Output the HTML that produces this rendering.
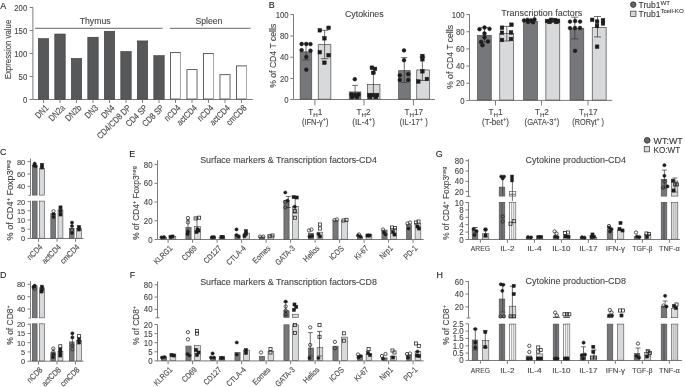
<!DOCTYPE html>
<html><head><meta charset="utf-8"><style>
html,body{margin:0;padding:0;background:#fff;overflow:hidden;}
svg{display:block;font-family:"Liberation Sans",sans-serif;will-change:transform;}
text{stroke:#4a4a4a;stroke-width:0.12px;}
</style></head><body>
<svg fill="#454545" width="685" height="387" viewBox="0 0 685 387">
<rect width="685" height="387" fill="#fff"/>
<text x="0.2" y="8.8" font-size="9.6" textLength="5.96" lengthAdjust="spacingAndGlyphs" fill="#111">A</text>
<line x1="32.9" y1="7.3" x2="32.9" y2="99.5" stroke="#7c7c7c" stroke-width="1.0"/>
<line x1="29.6" y1="99.5" x2="32.9" y2="99.5" stroke="#7c7c7c" stroke-width="1.0"/>
<line x1="29.6" y1="76.5" x2="32.9" y2="76.5" stroke="#7c7c7c" stroke-width="1.0"/>
<line x1="29.6" y1="53.5" x2="32.9" y2="53.5" stroke="#7c7c7c" stroke-width="1.0"/>
<line x1="29.6" y1="30.5" x2="32.9" y2="30.5" stroke="#7c7c7c" stroke-width="1.0"/>
<line x1="29.6" y1="7.5" x2="32.9" y2="7.5" stroke="#7c7c7c" stroke-width="1.0"/>
<text x="27.2" y="102.7" font-size="9.0" text-anchor="end" textLength="4.3" lengthAdjust="spacingAndGlyphs">0</text>
<text x="27.2" y="79.7" font-size="9.0" text-anchor="end" textLength="8.61" lengthAdjust="spacingAndGlyphs">50</text>
<text x="27.2" y="56.7" font-size="9.0" text-anchor="end" textLength="12.91" lengthAdjust="spacingAndGlyphs">100</text>
<text x="27.2" y="33.7" font-size="9.0" text-anchor="end" textLength="12.91" lengthAdjust="spacingAndGlyphs">150</text>
<text x="27.2" y="10.7" font-size="9.0" text-anchor="end" textLength="12.91" lengthAdjust="spacingAndGlyphs">200</text>
<line x1="32.9" y1="99.5" x2="252.9" y2="99.5" stroke="#7c7c7c" stroke-width="1.0"/>
<rect x="38.3" y="38.62" width="10.4" height="60.58" fill="#57585a" stroke="#3a3a3a" stroke-width="0.6"/>
<line x1="43.5" y1="99.5" x2="43.5" y2="102.9" stroke="#7c7c7c" stroke-width="1.0"/>
<text x="49.1" y="108.5" font-size="9.0" text-anchor="end" transform="rotate(-45 49.1 108.5)" textLength="14.76" lengthAdjust="spacingAndGlyphs">DN1</text>
<rect x="54.8" y="34.02" width="10.4" height="65.18" fill="#57585a" stroke="#3a3a3a" stroke-width="0.6"/>
<line x1="60" y1="99.5" x2="60" y2="102.9" stroke="#7c7c7c" stroke-width="1.0"/>
<text x="65.6" y="108.5" font-size="9.0" text-anchor="end" transform="rotate(-45 65.6 108.5)" textLength="18.87" lengthAdjust="spacingAndGlyphs">DN2a</text>
<rect x="71.3" y="58.4" width="10.4" height="40.8" fill="#57585a" stroke="#3a3a3a" stroke-width="0.6"/>
<line x1="76.5" y1="99.5" x2="76.5" y2="102.9" stroke="#7c7c7c" stroke-width="1.0"/>
<text x="82.1" y="108.5" font-size="9.0" text-anchor="end" transform="rotate(-45 82.1 108.5)" textLength="18.87" lengthAdjust="spacingAndGlyphs">DN2b</text>
<rect x="87.8" y="37.24" width="10.4" height="61.96" fill="#57585a" stroke="#3a3a3a" stroke-width="0.6"/>
<line x1="93" y1="99.5" x2="93" y2="102.9" stroke="#7c7c7c" stroke-width="1.0"/>
<text x="98.6" y="108.5" font-size="9.0" text-anchor="end" transform="rotate(-45 98.6 108.5)" textLength="14.76" lengthAdjust="spacingAndGlyphs">DN3</text>
<rect x="104.3" y="31.26" width="10.4" height="67.94" fill="#57585a" stroke="#3a3a3a" stroke-width="0.6"/>
<line x1="109.5" y1="99.5" x2="109.5" y2="102.9" stroke="#7c7c7c" stroke-width="1.0"/>
<text x="115.1" y="108.5" font-size="9.0" text-anchor="end" transform="rotate(-45 115.1 108.5)" textLength="14.76" lengthAdjust="spacingAndGlyphs">DN4</text>
<rect x="120.8" y="51.5" width="10.4" height="47.7" fill="#57585a" stroke="#3a3a3a" stroke-width="0.6"/>
<line x1="126" y1="99.5" x2="126" y2="102.9" stroke="#7c7c7c" stroke-width="1.0"/>
<text x="131.6" y="108.5" font-size="9.0" text-anchor="end" transform="rotate(-45 131.6 108.5)" textLength="43.88" lengthAdjust="spacingAndGlyphs">CD4/CD8 DP</text>
<rect x="137.3" y="40.92" width="10.4" height="58.28" fill="#57585a" stroke="#3a3a3a" stroke-width="0.6"/>
<line x1="142.5" y1="99.5" x2="142.5" y2="102.9" stroke="#7c7c7c" stroke-width="1.0"/>
<text x="148.1" y="108.5" font-size="9.0" text-anchor="end" transform="rotate(-45 148.1 108.5)" textLength="26.66" lengthAdjust="spacingAndGlyphs">CD4 SP</text>
<rect x="153.8" y="55.64" width="10.4" height="43.56" fill="#57585a" stroke="#3a3a3a" stroke-width="0.6"/>
<line x1="159" y1="99.5" x2="159" y2="102.9" stroke="#7c7c7c" stroke-width="1.0"/>
<text x="164.6" y="108.5" font-size="9.0" text-anchor="end" transform="rotate(-45 164.6 108.5)" textLength="26.66" lengthAdjust="spacingAndGlyphs">CD8 SP</text>
<rect x="170.45" y="52.57" width="10.1" height="46.48" fill="#fff" stroke="#505050" stroke-width="0.9"/>
<line x1="180.55" y1="52.62" x2="180.55" y2="99.5" stroke="#b4b4b4" stroke-width="0.9"/>
<line x1="175.5" y1="99.5" x2="175.5" y2="102.9" stroke="#7c7c7c" stroke-width="1.0"/>
<text x="181.1" y="108.5" font-size="9.0" text-anchor="end" transform="rotate(-45 181.1 108.5)" textLength="18.87" lengthAdjust="spacingAndGlyphs">nCD4</text>
<rect x="186.95" y="69.59" width="10.1" height="29.46" fill="#fff" stroke="#505050" stroke-width="0.9"/>
<line x1="197.05" y1="69.64" x2="197.05" y2="99.5" stroke="#b4b4b4" stroke-width="0.9"/>
<line x1="192" y1="99.5" x2="192" y2="102.9" stroke="#7c7c7c" stroke-width="1.0"/>
<text x="197.6" y="108.5" font-size="9.0" text-anchor="end" transform="rotate(-45 197.6 108.5)" textLength="24.61" lengthAdjust="spacingAndGlyphs">actCD4</text>
<rect x="203.45" y="53.49" width="10.1" height="45.56" fill="#fff" stroke="#505050" stroke-width="0.9"/>
<line x1="213.55" y1="53.54" x2="213.55" y2="99.5" stroke="#b4b4b4" stroke-width="0.9"/>
<line x1="208.5" y1="99.5" x2="208.5" y2="102.9" stroke="#7c7c7c" stroke-width="1.0"/>
<text x="214.1" y="108.5" font-size="9.0" text-anchor="end" transform="rotate(-45 214.1 108.5)" textLength="18.87" lengthAdjust="spacingAndGlyphs">nCD4</text>
<rect x="219.95" y="74.65" width="10.1" height="24.4" fill="#fff" stroke="#505050" stroke-width="0.9"/>
<line x1="230.05" y1="74.7" x2="230.05" y2="99.5" stroke="#b4b4b4" stroke-width="0.9"/>
<line x1="225" y1="99.5" x2="225" y2="102.9" stroke="#7c7c7c" stroke-width="1.0"/>
<text x="230.6" y="108.5" font-size="9.0" text-anchor="end" transform="rotate(-45 230.6 108.5)" textLength="24.61" lengthAdjust="spacingAndGlyphs">actCD4</text>
<rect x="236.45" y="65.91" width="10.1" height="33.14" fill="#fff" stroke="#505050" stroke-width="0.9"/>
<line x1="246.55" y1="65.96" x2="246.55" y2="99.5" stroke="#b4b4b4" stroke-width="0.9"/>
<line x1="241.5" y1="99.5" x2="241.5" y2="102.9" stroke="#7c7c7c" stroke-width="1.0"/>
<text x="247.1" y="108.5" font-size="9.0" text-anchor="end" transform="rotate(-45 247.1 108.5)" textLength="24.6" lengthAdjust="spacingAndGlyphs">cmCD8</text>
<text x="11" y="49.5" font-size="8.4" text-anchor="middle" transform="rotate(-90 11 49.5)" textLength="59.5" lengthAdjust="spacingAndGlyphs">Expression value</text>
<line x1="35" y1="28.3" x2="162.5" y2="28.3" stroke="#555" stroke-width="0.9"/>
<line x1="169.8" y1="28.3" x2="250.5" y2="28.3" stroke="#555" stroke-width="0.9"/>
<text x="95.2" y="23.9" font-size="9.4" text-anchor="middle" textLength="31" lengthAdjust="spacingAndGlyphs">Thymus</text>
<text x="208.9" y="23.9" font-size="9.4" text-anchor="middle" textLength="27" lengthAdjust="spacingAndGlyphs">Spleen</text>
<text x="268.7" y="8" font-size="9.6" textLength="5.96" lengthAdjust="spacingAndGlyphs" fill="#111">B</text>
<line x1="293.5" y1="14.2" x2="293.5" y2="99.5" stroke="#7c7c7c" stroke-width="1.0"/>
<line x1="290.3" y1="14.6" x2="293.5" y2="14.6" stroke="#7c7c7c" stroke-width="1.0"/>
<line x1="290.3" y1="36" x2="293.5" y2="36" stroke="#7c7c7c" stroke-width="1.0"/>
<line x1="290.3" y1="57.2" x2="293.5" y2="57.2" stroke="#7c7c7c" stroke-width="1.0"/>
<line x1="290.3" y1="78.5" x2="293.5" y2="78.5" stroke="#7c7c7c" stroke-width="1.0"/>
<line x1="290.3" y1="99.5" x2="293.5" y2="99.5" stroke="#7c7c7c" stroke-width="1.0"/>
<text x="288.6" y="17.8" font-size="9.0" text-anchor="end" textLength="12.91" lengthAdjust="spacingAndGlyphs">100</text>
<text x="288.6" y="39.2" font-size="9.0" text-anchor="end" textLength="8.61" lengthAdjust="spacingAndGlyphs">80</text>
<text x="288.6" y="60.4" font-size="9.0" text-anchor="end" textLength="8.61" lengthAdjust="spacingAndGlyphs">40</text>
<text x="288.6" y="81.7" font-size="9.0" text-anchor="end" textLength="8.61" lengthAdjust="spacingAndGlyphs">20</text>
<text x="288.6" y="102.7" font-size="9.0" text-anchor="end" textLength="4.3" lengthAdjust="spacingAndGlyphs">0</text>
<line x1="293.5" y1="99.5" x2="435" y2="99.5" stroke="#7c7c7c" stroke-width="1.0"/>
<rect x="300.15" y="51.85" width="11.6" height="47.3" fill="#76777a" stroke="#4a4a4a" stroke-width="0.7"/>
<rect x="318.25" y="44.65" width="12.6" height="54.5" fill="#d8d9db" stroke="#4a4a4a" stroke-width="0.7"/>
<line x1="314.9" y1="99.5" x2="314.9" y2="105.5" stroke="#7c7c7c" stroke-width="1.0"/>
<rect x="349.25" y="91.95" width="11.6" height="7.2" fill="#76777a" stroke="#4a4a4a" stroke-width="0.7"/>
<rect x="367.35" y="84.55" width="12.6" height="14.6" fill="#d8d9db" stroke="#4a4a4a" stroke-width="0.7"/>
<line x1="364" y1="99.5" x2="364" y2="105.5" stroke="#7c7c7c" stroke-width="1.0"/>
<rect x="398.65" y="70.65" width="11.6" height="28.5" fill="#76777a" stroke="#4a4a4a" stroke-width="0.7"/>
<rect x="416.75" y="69.95" width="12.6" height="29.2" fill="#d8d9db" stroke="#4a4a4a" stroke-width="0.7"/>
<line x1="413.4" y1="99.5" x2="413.4" y2="105.5" stroke="#7c7c7c" stroke-width="1.0"/>
<line x1="306" y1="43.4" x2="306" y2="59.9" stroke="#333" stroke-width="0.7"/>
<line x1="302.2" y1="43.4" x2="309.8" y2="43.4" stroke="#333" stroke-width="0.7"/>
<line x1="302.2" y1="59.9" x2="309.8" y2="59.9" stroke="#333" stroke-width="0.7"/>
<line x1="324.6" y1="30.3" x2="324.6" y2="58.7" stroke="#333" stroke-width="0.7"/>
<line x1="320.8" y1="30.3" x2="328.4" y2="30.3" stroke="#333" stroke-width="0.7"/>
<line x1="320.8" y1="58.7" x2="328.4" y2="58.7" stroke="#333" stroke-width="0.7"/>
<line x1="355.1" y1="85.4" x2="355.1" y2="97.5" stroke="#333" stroke-width="0.7"/>
<line x1="352.1" y1="85.4" x2="358.1" y2="85.4" stroke="#333" stroke-width="0.7"/>
<line x1="352.1" y1="97.5" x2="358.1" y2="97.5" stroke="#333" stroke-width="0.7"/>
<line x1="373.4" y1="72.8" x2="373.4" y2="98" stroke="#333" stroke-width="0.7"/>
<line x1="370.9" y1="72.8" x2="375.9" y2="72.8" stroke="#333" stroke-width="0.7"/>
<line x1="370.9" y1="98" x2="375.9" y2="98" stroke="#333" stroke-width="0.7"/>
<line x1="404.3" y1="57.6" x2="404.3" y2="82.5" stroke="#333" stroke-width="0.7"/>
<line x1="401.3" y1="57.6" x2="407.3" y2="57.6" stroke="#333" stroke-width="0.7"/>
<line x1="401.3" y1="82.5" x2="407.3" y2="82.5" stroke="#333" stroke-width="0.7"/>
<line x1="422.4" y1="57" x2="422.4" y2="80.5" stroke="#333" stroke-width="0.7"/>
<line x1="419.4" y1="57" x2="425.4" y2="57" stroke="#333" stroke-width="0.7"/>
<line x1="419.4" y1="80.5" x2="425.4" y2="80.5" stroke="#333" stroke-width="0.7"/>
<circle cx="301.6" cy="44" r="1.9" fill="#1c1c1c" stroke="#1c1c1c" stroke-width="0.5"/>
<circle cx="306.3" cy="44" r="1.9" fill="#1c1c1c" stroke="#1c1c1c" stroke-width="0.5"/>
<circle cx="310.5" cy="44.1" r="1.9" fill="#1c1c1c" stroke="#1c1c1c" stroke-width="0.5"/>
<circle cx="301.6" cy="50.1" r="1.9" fill="#1c1c1c" stroke="#1c1c1c" stroke-width="0.5"/>
<circle cx="310.5" cy="50.7" r="1.9" fill="#1c1c1c" stroke="#1c1c1c" stroke-width="0.5"/>
<circle cx="306.3" cy="56.9" r="1.9" fill="#1c1c1c" stroke="#1c1c1c" stroke-width="0.5"/>
<circle cx="306.3" cy="69.7" r="1.9" fill="#1c1c1c" stroke="#1c1c1c" stroke-width="0.5"/>
<rect x="318" y="28.5" width="3.6" height="3.6" fill="#1c1c1c" stroke="#1c1c1c" stroke-width="0.5"/>
<rect x="326.8" y="26" width="3.6" height="3.6" fill="#1c1c1c" stroke="#1c1c1c" stroke-width="0.5"/>
<rect x="322.6" y="36.5" width="3.6" height="3.6" fill="#1c1c1c" stroke="#1c1c1c" stroke-width="0.5"/>
<rect x="318" y="50.4" width="3.6" height="3.6" fill="#1c1c1c" stroke="#1c1c1c" stroke-width="0.5"/>
<rect x="326.8" y="53.4" width="3.6" height="3.6" fill="#1c1c1c" stroke="#1c1c1c" stroke-width="0.5"/>
<rect x="322.6" y="60.9" width="3.6" height="3.6" fill="#1c1c1c" stroke="#1c1c1c" stroke-width="0.5"/>
<circle cx="354.8" cy="79.2" r="1.9" fill="#1c1c1c" stroke="#1c1c1c" stroke-width="0.5"/>
<circle cx="351.5" cy="94.5" r="1.9" fill="#1c1c1c" stroke="#1c1c1c" stroke-width="0.5"/>
<circle cx="355" cy="95" r="1.9" fill="#1c1c1c" stroke="#1c1c1c" stroke-width="0.5"/>
<circle cx="358.5" cy="94.5" r="1.9" fill="#1c1c1c" stroke="#1c1c1c" stroke-width="0.5"/>
<circle cx="352" cy="97" r="1.9" fill="#1c1c1c" stroke="#1c1c1c" stroke-width="0.5"/>
<circle cx="357" cy="97" r="1.9" fill="#1c1c1c" stroke="#1c1c1c" stroke-width="0.5"/>
<rect x="370.1" y="65.9" width="3.6" height="3.6" fill="#1c1c1c" stroke="#1c1c1c" stroke-width="0.5"/>
<rect x="373.2" y="67.1" width="3.6" height="3.6" fill="#1c1c1c" stroke="#1c1c1c" stroke-width="0.5"/>
<rect x="371.5" y="71" width="3.6" height="3.6" fill="#1c1c1c" stroke="#1c1c1c" stroke-width="0.5"/>
<rect x="367.7" y="93.2" width="3.6" height="3.6" fill="#1c1c1c" stroke="#1c1c1c" stroke-width="0.5"/>
<rect x="371.2" y="93.2" width="3.6" height="3.6" fill="#1c1c1c" stroke="#1c1c1c" stroke-width="0.5"/>
<rect x="375.2" y="93.2" width="3.6" height="3.6" fill="#1c1c1c" stroke="#1c1c1c" stroke-width="0.5"/>
<rect x="368.2" y="95.2" width="3.6" height="3.6" fill="#1c1c1c" stroke="#1c1c1c" stroke-width="0.5"/>
<rect x="374.2" y="95.2" width="3.6" height="3.6" fill="#1c1c1c" stroke="#1c1c1c" stroke-width="0.5"/>
<circle cx="404" cy="50.4" r="1.9" fill="#1c1c1c" stroke="#1c1c1c" stroke-width="0.5"/>
<circle cx="404" cy="60.2" r="1.9" fill="#1c1c1c" stroke="#1c1c1c" stroke-width="0.5"/>
<circle cx="399.8" cy="75.3" r="1.9" fill="#1c1c1c" stroke="#1c1c1c" stroke-width="0.5"/>
<circle cx="408.2" cy="74.1" r="1.9" fill="#1c1c1c" stroke="#1c1c1c" stroke-width="0.5"/>
<circle cx="399.8" cy="80" r="1.9" fill="#1c1c1c" stroke="#1c1c1c" stroke-width="0.5"/>
<circle cx="408.2" cy="80" r="1.9" fill="#1c1c1c" stroke="#1c1c1c" stroke-width="0.5"/>
<rect x="420.6" y="54.2" width="3.6" height="3.6" fill="#1c1c1c" stroke="#1c1c1c" stroke-width="0.5"/>
<rect x="420.6" y="57.5" width="3.6" height="3.6" fill="#1c1c1c" stroke="#1c1c1c" stroke-width="0.5"/>
<rect x="420.6" y="69.5" width="3.6" height="3.6" fill="#1c1c1c" stroke="#1c1c1c" stroke-width="0.5"/>
<rect x="416.5" y="79.7" width="3.6" height="3.6" fill="#1c1c1c" stroke="#1c1c1c" stroke-width="0.5"/>
<rect x="425.1" y="77.2" width="3.6" height="3.6" fill="#1c1c1c" stroke="#1c1c1c" stroke-width="0.5"/>
<text x="364.3" y="16.5" font-size="9.6" text-anchor="middle" textLength="38.7" lengthAdjust="spacingAndGlyphs">Cytokines</text>
<text x="276.3" y="55.8" font-size="8.8" text-anchor="middle" transform="rotate(-90 276.3 55.8)" textLength="64" lengthAdjust="spacingAndGlyphs">% of CD4 T cells</text>
<text x="315.2" y="114.7" font-size="8.2" text-anchor="middle">T<tspan font-size="6.2" dy="2.2">H</tspan><tspan dy="-2.2">1</tspan></text>
<text x="315.2" y="124.6" font-size="8.2" text-anchor="middle" textLength="26.5" lengthAdjust="spacingAndGlyphs">(IFN-γ<tspan font-size="5.8" dy="-3.2">+</tspan><tspan dy="3.2">)</tspan></text>
<text x="363.6" y="114.7" font-size="8.2" text-anchor="middle">T<tspan font-size="6.2" dy="2.2">H</tspan><tspan dy="-2.2">2</tspan></text>
<text x="363.6" y="124.6" font-size="8.2" text-anchor="middle" textLength="22.6" lengthAdjust="spacingAndGlyphs">(IL-4<tspan font-size="5.8" dy="-3.2">+</tspan><tspan dy="3.2">)</tspan></text>
<text x="413.8" y="114.7" font-size="8.2" text-anchor="middle">T<tspan font-size="6.2" dy="2.2">H</tspan><tspan dy="-2.2">17</tspan></text>
<text x="413.8" y="124.6" font-size="8.2" text-anchor="middle" textLength="28" lengthAdjust="spacingAndGlyphs">(IL-17<tspan font-size="5.8" dy="-3.2">+</tspan><tspan dy="3.2"> )</tspan></text>
<line x1="469.5" y1="14.2" x2="469.5" y2="100.4" stroke="#7c7c7c" stroke-width="1.0"/>
<line x1="466.3" y1="100.4" x2="469.5" y2="100.4" stroke="#7c7c7c" stroke-width="1.0"/>
<line x1="466.3" y1="83.24" x2="469.5" y2="83.24" stroke="#7c7c7c" stroke-width="1.0"/>
<line x1="466.3" y1="66.08" x2="469.5" y2="66.08" stroke="#7c7c7c" stroke-width="1.0"/>
<line x1="466.3" y1="48.92" x2="469.5" y2="48.92" stroke="#7c7c7c" stroke-width="1.0"/>
<line x1="466.3" y1="31.76" x2="469.5" y2="31.76" stroke="#7c7c7c" stroke-width="1.0"/>
<line x1="466.3" y1="14.6" x2="469.5" y2="14.6" stroke="#7c7c7c" stroke-width="1.0"/>
<text x="464.6" y="103.6" font-size="9.0" text-anchor="end" textLength="4.3" lengthAdjust="spacingAndGlyphs">0</text>
<text x="464.6" y="86.44" font-size="9.0" text-anchor="end" textLength="8.61" lengthAdjust="spacingAndGlyphs">20</text>
<text x="464.6" y="69.28" font-size="9.0" text-anchor="end" textLength="8.61" lengthAdjust="spacingAndGlyphs">40</text>
<text x="464.6" y="52.12" font-size="9.0" text-anchor="end" textLength="8.61" lengthAdjust="spacingAndGlyphs">60</text>
<text x="464.6" y="34.96" font-size="9.0" text-anchor="end" textLength="8.61" lengthAdjust="spacingAndGlyphs">80</text>
<text x="464.6" y="17.8" font-size="9.0" text-anchor="end" textLength="12.91" lengthAdjust="spacingAndGlyphs">100</text>
<line x1="469.5" y1="100.4" x2="612.3" y2="100.4" stroke="#7c7c7c" stroke-width="1.0"/>
<rect x="477.55" y="35.35" width="13.7" height="64.7" fill="#76777a" stroke="#4a4a4a" stroke-width="0.7"/>
<rect x="499.75" y="33.55" width="13.9" height="66.5" fill="#d8d9db" stroke="#4a4a4a" stroke-width="0.7"/>
<line x1="495.5" y1="100.4" x2="495.5" y2="105.5" stroke="#7c7c7c" stroke-width="1.0"/>
<rect x="523.65" y="21.25" width="13.7" height="78.8" fill="#76777a" stroke="#4a4a4a" stroke-width="0.7"/>
<rect x="545.85" y="21.35" width="13.9" height="78.7" fill="#d8d9db" stroke="#4a4a4a" stroke-width="0.7"/>
<line x1="541.6" y1="100.4" x2="541.6" y2="105.5" stroke="#7c7c7c" stroke-width="1.0"/>
<rect x="570.05" y="28.55" width="13.7" height="71.5" fill="#76777a" stroke="#4a4a4a" stroke-width="0.7"/>
<rect x="592.25" y="27.35" width="13.9" height="72.7" fill="#d8d9db" stroke="#4a4a4a" stroke-width="0.7"/>
<line x1="588" y1="100.4" x2="588" y2="105.5" stroke="#7c7c7c" stroke-width="1.0"/>
<line x1="484.5" y1="27.5" x2="484.5" y2="42" stroke="#333" stroke-width="0.7"/>
<line x1="481" y1="27.5" x2="488" y2="27.5" stroke="#333" stroke-width="0.7"/>
<line x1="481" y1="42" x2="488" y2="42" stroke="#333" stroke-width="0.7"/>
<line x1="506.8" y1="26.4" x2="506.8" y2="41" stroke="#333" stroke-width="0.7"/>
<line x1="503.3" y1="26.4" x2="510.3" y2="26.4" stroke="#333" stroke-width="0.7"/>
<line x1="503.3" y1="41" x2="510.3" y2="41" stroke="#333" stroke-width="0.7"/>
<line x1="529.5" y1="19.5" x2="529.5" y2="22.5" stroke="#333" stroke-width="0.7"/>
<line x1="526" y1="19.5" x2="533" y2="19.5" stroke="#333" stroke-width="0.7"/>
<line x1="526" y1="22.5" x2="533" y2="22.5" stroke="#333" stroke-width="0.7"/>
<line x1="552" y1="19.5" x2="552" y2="22.5" stroke="#333" stroke-width="0.7"/>
<line x1="548.5" y1="19.5" x2="555.5" y2="19.5" stroke="#333" stroke-width="0.7"/>
<line x1="548.5" y1="22.5" x2="555.5" y2="22.5" stroke="#333" stroke-width="0.7"/>
<line x1="574.8" y1="17.2" x2="574.8" y2="38.9" stroke="#333" stroke-width="0.7"/>
<line x1="571.3" y1="17.2" x2="578.3" y2="17.2" stroke="#333" stroke-width="0.7"/>
<line x1="571.3" y1="38.9" x2="578.3" y2="38.9" stroke="#333" stroke-width="0.7"/>
<line x1="597.5" y1="16.5" x2="597.5" y2="36.9" stroke="#333" stroke-width="0.7"/>
<line x1="594" y1="16.5" x2="601" y2="16.5" stroke="#333" stroke-width="0.7"/>
<line x1="594" y1="36.9" x2="601" y2="36.9" stroke="#333" stroke-width="0.7"/>
<circle cx="479.5" cy="29.2" r="1.9" fill="#1c1c1c" stroke="#1c1c1c" stroke-width="0.5"/>
<circle cx="484.5" cy="27.5" r="1.9" fill="#1c1c1c" stroke="#1c1c1c" stroke-width="0.5"/>
<circle cx="489.5" cy="28.8" r="1.9" fill="#1c1c1c" stroke="#1c1c1c" stroke-width="0.5"/>
<circle cx="484.5" cy="33.5" r="1.9" fill="#1c1c1c" stroke="#1c1c1c" stroke-width="0.5"/>
<circle cx="484.5" cy="37.5" r="1.9" fill="#1c1c1c" stroke="#1c1c1c" stroke-width="0.5"/>
<circle cx="481" cy="42" r="1.9" fill="#1c1c1c" stroke="#1c1c1c" stroke-width="0.5"/>
<circle cx="488" cy="41.5" r="1.9" fill="#1c1c1c" stroke="#1c1c1c" stroke-width="0.5"/>
<circle cx="482.5" cy="45.2" r="1.9" fill="#1c1c1c" stroke="#1c1c1c" stroke-width="0.5"/>
<rect x="500.2" y="25.9" width="3.6" height="3.6" fill="#1c1c1c" stroke="#1c1c1c" stroke-width="0.5"/>
<rect x="509.7" y="22.9" width="3.6" height="3.6" fill="#1c1c1c" stroke="#1c1c1c" stroke-width="0.5"/>
<rect x="500.2" y="30.9" width="3.6" height="3.6" fill="#1c1c1c" stroke="#1c1c1c" stroke-width="0.5"/>
<rect x="509.2" y="30.7" width="3.6" height="3.6" fill="#1c1c1c" stroke="#1c1c1c" stroke-width="0.5"/>
<rect x="500.2" y="38.2" width="3.6" height="3.6" fill="#1c1c1c" stroke="#1c1c1c" stroke-width="0.5"/>
<rect x="509.2" y="37.2" width="3.6" height="3.6" fill="#1c1c1c" stroke="#1c1c1c" stroke-width="0.5"/>
<circle cx="524" cy="20.5" r="1.9" fill="#1c1c1c" stroke="#1c1c1c" stroke-width="0.5"/>
<circle cx="527.5" cy="19.8" r="1.9" fill="#1c1c1c" stroke="#1c1c1c" stroke-width="0.5"/>
<circle cx="531" cy="20.3" r="1.9" fill="#1c1c1c" stroke="#1c1c1c" stroke-width="0.5"/>
<circle cx="534.5" cy="19.5" r="1.9" fill="#1c1c1c" stroke="#1c1c1c" stroke-width="0.5"/>
<circle cx="528" cy="22" r="1.9" fill="#1c1c1c" stroke="#1c1c1c" stroke-width="0.5"/>
<circle cx="533" cy="22.3" r="1.9" fill="#1c1c1c" stroke="#1c1c1c" stroke-width="0.5"/>
<rect x="545.2" y="19.2" width="3.6" height="3.6" fill="#1c1c1c" stroke="#1c1c1c" stroke-width="0.5"/>
<rect x="549.2" y="18" width="3.6" height="3.6" fill="#1c1c1c" stroke="#1c1c1c" stroke-width="0.5"/>
<rect x="553.2" y="18.2" width="3.6" height="3.6" fill="#1c1c1c" stroke="#1c1c1c" stroke-width="0.5"/>
<rect x="556.2" y="19" width="3.6" height="3.6" fill="#1c1c1c" stroke="#1c1c1c" stroke-width="0.5"/>
<rect x="547.7" y="20.2" width="3.6" height="3.6" fill="#1c1c1c" stroke="#1c1c1c" stroke-width="0.5"/>
<rect x="554.7" y="20.2" width="3.6" height="3.6" fill="#1c1c1c" stroke="#1c1c1c" stroke-width="0.5"/>
<circle cx="570" cy="21.6" r="1.9" fill="#1c1c1c" stroke="#1c1c1c" stroke-width="0.5"/>
<circle cx="575.1" cy="21" r="1.9" fill="#1c1c1c" stroke="#1c1c1c" stroke-width="0.5"/>
<circle cx="580.1" cy="21.6" r="1.9" fill="#1c1c1c" stroke="#1c1c1c" stroke-width="0.5"/>
<circle cx="570" cy="28.1" r="1.9" fill="#1c1c1c" stroke="#1c1c1c" stroke-width="0.5"/>
<circle cx="575" cy="28" r="1.9" fill="#1c1c1c" stroke="#1c1c1c" stroke-width="0.5"/>
<circle cx="580" cy="28" r="1.9" fill="#1c1c1c" stroke="#1c1c1c" stroke-width="0.5"/>
<circle cx="575.1" cy="50.8" r="1.9" fill="#1c1c1c" stroke="#1c1c1c" stroke-width="0.5"/>
<rect x="590.4" y="18" width="3.6" height="3.6" fill="#1c1c1c" stroke="#1c1c1c" stroke-width="0.5"/>
<rect x="595.3" y="19.8" width="3.6" height="3.6" fill="#1c1c1c" stroke="#1c1c1c" stroke-width="0.5"/>
<rect x="601.2" y="18.5" width="3.6" height="3.6" fill="#1c1c1c" stroke="#1c1c1c" stroke-width="0.5"/>
<rect x="601.2" y="21.6" width="3.6" height="3.6" fill="#1c1c1c" stroke="#1c1c1c" stroke-width="0.5"/>
<rect x="595.2" y="24.2" width="3.6" height="3.6" fill="#1c1c1c" stroke="#1c1c1c" stroke-width="0.5"/>
<rect x="595.3" y="44.9" width="3.6" height="3.6" fill="#1c1c1c" stroke="#1c1c1c" stroke-width="0.5"/>
<text x="541.8" y="16.3" font-size="9.8" text-anchor="middle" textLength="81" lengthAdjust="spacingAndGlyphs">Transcription factors</text>
<text x="452.6" y="57" font-size="8.8" text-anchor="middle" transform="rotate(-90 452.6 57)" textLength="64" lengthAdjust="spacingAndGlyphs">% of CD4 T cells</text>
<text x="495.5" y="114.7" font-size="8.2" text-anchor="middle">T<tspan font-size="6.2" dy="2.2">H</tspan><tspan dy="-2.2">1</tspan></text>
<text x="495.5" y="124.6" font-size="8.2" text-anchor="middle" textLength="26.8" lengthAdjust="spacingAndGlyphs">(T-bet<tspan font-size="5.8" dy="-3.2">+</tspan><tspan dy="3.2">)</tspan></text>
<text x="541.9" y="114.7" font-size="8.2" text-anchor="middle">T<tspan font-size="6.2" dy="2.2">H</tspan><tspan dy="-2.2">2</tspan></text>
<text x="541.9" y="124.6" font-size="8.2" text-anchor="middle" textLength="34.6" lengthAdjust="spacingAndGlyphs">(GATA-3<tspan font-size="5.8" dy="-3.2">+</tspan><tspan dy="3.2">)</tspan></text>
<text x="588.2" y="114.7" font-size="8.2" text-anchor="middle">T<tspan font-size="6.2" dy="2.2">H</tspan><tspan dy="-2.2">17</tspan></text>
<text x="588.2" y="124.6" font-size="8.2" text-anchor="middle" textLength="31.7" lengthAdjust="spacingAndGlyphs">(RORγt<tspan font-size="5.8" dy="-3.2">+</tspan><tspan dy="3.2"> )</tspan></text>
<circle cx="633.2" cy="4.6" r="2.8" fill="#666" stroke="#222" stroke-width="0.7"/>
<rect x="630.65" y="11.15" width="5.3" height="5.3" fill="#d8d9db" stroke="#333" stroke-width="0.7"/>
<text x="638.6" y="8.1" font-size="9.4" fill="#333"><tspan textLength="21.8" lengthAdjust="spacingAndGlyphs">Trub1</tspan><tspan font-size="6.2" dy="-3.6">WT</tspan></text>
<text x="638.6" y="17" font-size="9.4" fill="#333"><tspan textLength="21.8" lengthAdjust="spacingAndGlyphs">Trub1</tspan><tspan font-size="6.2" dy="-3.6">Tcell-KO</tspan></text>
<text x="0" y="155.3" font-size="9.6" textLength="6.45" lengthAdjust="spacingAndGlyphs" fill="#111">C</text>
<line x1="30.5" y1="158.5" x2="30.5" y2="195.4" stroke="#7c7c7c" stroke-width="1.0"/>
<line x1="28.5" y1="195.4" x2="30.5" y2="195.4" stroke="#7c7c7c" stroke-width="1.0"/>
<line x1="30.5" y1="200.8" x2="30.5" y2="238.5" stroke="#7c7c7c" stroke-width="1.0"/>
<line x1="27.5" y1="161.6" x2="30.5" y2="161.6" stroke="#7c7c7c" stroke-width="1.0"/>
<line x1="27.5" y1="174" x2="30.5" y2="174" stroke="#7c7c7c" stroke-width="1.0"/>
<line x1="27.5" y1="186.4" x2="30.5" y2="186.4" stroke="#7c7c7c" stroke-width="1.0"/>
<line x1="27.5" y1="201.6" x2="30.5" y2="201.6" stroke="#7c7c7c" stroke-width="1.0"/>
<line x1="27.5" y1="210.8" x2="30.5" y2="210.8" stroke="#7c7c7c" stroke-width="1.0"/>
<line x1="27.5" y1="220" x2="30.5" y2="220" stroke="#7c7c7c" stroke-width="1.0"/>
<line x1="27.5" y1="229.2" x2="30.5" y2="229.2" stroke="#7c7c7c" stroke-width="1.0"/>
<line x1="27.5" y1="238.5" x2="30.5" y2="238.5" stroke="#7c7c7c" stroke-width="1.0"/>
<text x="25.2" y="164.5" font-size="8.0" text-anchor="end" textLength="8.27" lengthAdjust="spacingAndGlyphs">80</text>
<text x="25.2" y="176.9" font-size="8.0" text-anchor="end" textLength="8.27" lengthAdjust="spacingAndGlyphs">60</text>
<text x="25.2" y="189.3" font-size="8.0" text-anchor="end" textLength="8.27" lengthAdjust="spacingAndGlyphs">40</text>
<text x="25.2" y="204.5" font-size="8.0" text-anchor="end" textLength="8.27" lengthAdjust="spacingAndGlyphs">20</text>
<text x="25.2" y="213.7" font-size="8.0" text-anchor="end" textLength="8.27" lengthAdjust="spacingAndGlyphs">15</text>
<text x="25.2" y="222.9" font-size="8.0" text-anchor="end" textLength="8.27" lengthAdjust="spacingAndGlyphs">10</text>
<text x="25.2" y="232.1" font-size="8.0" text-anchor="end" textLength="4.14" lengthAdjust="spacingAndGlyphs">5</text>
<text x="25.2" y="241.4" font-size="8.0" text-anchor="end" textLength="4.14" lengthAdjust="spacingAndGlyphs">0</text>
<line x1="30.5" y1="238.5" x2="83.5" y2="238.5" stroke="#7c7c7c" stroke-width="1.0"/>
<line x1="38.5" y1="238.5" x2="38.5" y2="241.8" stroke="#7c7c7c" stroke-width="1.0"/>
<rect x="32.3" y="165" width="4.8" height="30.1" fill="#76777a" stroke="#4a4a4a" stroke-width="0.6"/>
<rect x="32.3" y="201.1" width="4.8" height="37.1" fill="#76777a" stroke="#4a4a4a" stroke-width="0.6"/>
<rect x="39.5" y="168.1" width="4.9" height="27" fill="#d8d9db" stroke="#4a4a4a" stroke-width="0.6"/>
<rect x="39.5" y="201.1" width="4.9" height="37.1" fill="#d8d9db" stroke="#4a4a4a" stroke-width="0.6"/>
<text x="43.1" y="247.7" font-size="8.3" text-anchor="end" transform="rotate(-45 43.1 247.7)" textLength="18.04" lengthAdjust="spacingAndGlyphs">nCD4</text>
<line x1="57" y1="238.5" x2="57" y2="241.8" stroke="#7c7c7c" stroke-width="1.0"/>
<rect x="50.8" y="213.6" width="4.8" height="24.6" fill="#76777a" stroke="#4a4a4a" stroke-width="0.6"/>
<rect x="58" y="210" width="4.9" height="28.2" fill="#d8d9db" stroke="#4a4a4a" stroke-width="0.6"/>
<text x="61.6" y="247.7" font-size="8.3" text-anchor="end" transform="rotate(-45 61.6 247.7)" textLength="23.52" lengthAdjust="spacingAndGlyphs">actCD4</text>
<line x1="75.5" y1="238.5" x2="75.5" y2="241.8" stroke="#7c7c7c" stroke-width="1.0"/>
<rect x="69.3" y="228.3" width="4.8" height="9.9" fill="#76777a" stroke="#4a4a4a" stroke-width="0.6"/>
<rect x="76.5" y="228.3" width="4.9" height="9.9" fill="#d8d9db" stroke="#4a4a4a" stroke-width="0.6"/>
<text x="80.1" y="247.7" font-size="8.3" text-anchor="end" transform="rotate(-45 80.1 247.7)" textLength="23.52" lengthAdjust="spacingAndGlyphs">cmCD4</text>
<circle cx="34.7" cy="163.6" r="1.6" fill="#1c1c1c" stroke="#1c1c1c" stroke-width="0.5"/>
<circle cx="34.2" cy="165.5" r="1.6" fill="#1c1c1c" stroke="#1c1c1c" stroke-width="0.5"/>
<circle cx="35.5" cy="166.2" r="1.6" fill="#1c1c1c" stroke="#1c1c1c" stroke-width="0.5"/>
<rect x="40.45" y="163.25" width="3.1" height="3.1" fill="#1c1c1c" stroke="#1c1c1c" stroke-width="0.5"/>
<rect x="40.45" y="165.95" width="3.1" height="3.1" fill="#1c1c1c" stroke="#1c1c1c" stroke-width="0.5"/>
<circle cx="53.5" cy="211.3" r="1.65" fill="none" stroke="#222" stroke-width="0.75"/>
<circle cx="53.5" cy="214" r="1.6" fill="#1c1c1c" stroke="#1c1c1c" stroke-width="0.5"/>
<circle cx="53.5" cy="217" r="1.6" fill="#1c1c1c" stroke="#1c1c1c" stroke-width="0.5"/>
<rect x="58.95" y="205.85" width="3.1" height="3.1" fill="#1c1c1c" stroke="#1c1c1c" stroke-width="0.5"/>
<rect x="58.95" y="209.45" width="3.1" height="3.1" fill="#1c1c1c" stroke="#1c1c1c" stroke-width="0.5"/>
<rect x="58.95" y="212.95" width="3.1" height="3.1" fill="#1c1c1c" stroke="#1c1c1c" stroke-width="0.5"/>
<circle cx="72" cy="222.6" r="1.6" fill="#1c1c1c" stroke="#1c1c1c" stroke-width="0.5"/>
<circle cx="72" cy="226" r="1.6" fill="#1c1c1c" stroke="#1c1c1c" stroke-width="0.5"/>
<circle cx="72" cy="230" r="1.65" fill="none" stroke="#222" stroke-width="0.75"/>
<circle cx="72" cy="233" r="1.6" fill="#1c1c1c" stroke="#1c1c1c" stroke-width="0.5"/>
<rect x="77.45" y="225.45" width="3.1" height="3.1" fill="#1c1c1c" stroke="#1c1c1c" stroke-width="0.5"/>
<rect x="77.45" y="227.95" width="3.1" height="3.1" fill="#1c1c1c" stroke="#1c1c1c" stroke-width="0.5"/>
<text x="12.6" y="200.4" font-size="8.6" text-anchor="middle" transform="rotate(-90 12.6 200.4)" textLength="80" lengthAdjust="spacingAndGlyphs">% of CD4<tspan font-size="5.6" dy="-3">+</tspan><tspan dy="3"> Foxp3</tspan><tspan font-size="5.6" dy="-3">neg</tspan></text>
<text x="0" y="277.8" font-size="9.6" textLength="6.45" lengthAdjust="spacingAndGlyphs" fill="#111">D</text>
<line x1="30.5" y1="281.2" x2="30.5" y2="318.1" stroke="#7c7c7c" stroke-width="1.0"/>
<line x1="28.5" y1="318.1" x2="30.5" y2="318.1" stroke="#7c7c7c" stroke-width="1.0"/>
<line x1="30.5" y1="323.5" x2="30.5" y2="361.2" stroke="#7c7c7c" stroke-width="1.0"/>
<line x1="27.5" y1="284.3" x2="30.5" y2="284.3" stroke="#7c7c7c" stroke-width="1.0"/>
<line x1="27.5" y1="296.7" x2="30.5" y2="296.7" stroke="#7c7c7c" stroke-width="1.0"/>
<line x1="27.5" y1="309.1" x2="30.5" y2="309.1" stroke="#7c7c7c" stroke-width="1.0"/>
<line x1="27.5" y1="324.3" x2="30.5" y2="324.3" stroke="#7c7c7c" stroke-width="1.0"/>
<line x1="27.5" y1="333.5" x2="30.5" y2="333.5" stroke="#7c7c7c" stroke-width="1.0"/>
<line x1="27.5" y1="342.7" x2="30.5" y2="342.7" stroke="#7c7c7c" stroke-width="1.0"/>
<line x1="27.5" y1="351.9" x2="30.5" y2="351.9" stroke="#7c7c7c" stroke-width="1.0"/>
<line x1="27.5" y1="361.2" x2="30.5" y2="361.2" stroke="#7c7c7c" stroke-width="1.0"/>
<text x="25.2" y="287.2" font-size="8.0" text-anchor="end" textLength="8.27" lengthAdjust="spacingAndGlyphs">80</text>
<text x="25.2" y="299.6" font-size="8.0" text-anchor="end" textLength="8.27" lengthAdjust="spacingAndGlyphs">60</text>
<text x="25.2" y="312" font-size="8.0" text-anchor="end" textLength="8.27" lengthAdjust="spacingAndGlyphs">40</text>
<text x="25.2" y="327.2" font-size="8.0" text-anchor="end" textLength="8.27" lengthAdjust="spacingAndGlyphs">20</text>
<text x="25.2" y="336.4" font-size="8.0" text-anchor="end" textLength="8.27" lengthAdjust="spacingAndGlyphs">15</text>
<text x="25.2" y="345.6" font-size="8.0" text-anchor="end" textLength="8.27" lengthAdjust="spacingAndGlyphs">10</text>
<text x="25.2" y="354.8" font-size="8.0" text-anchor="end" textLength="4.14" lengthAdjust="spacingAndGlyphs">5</text>
<text x="25.2" y="364.1" font-size="8.0" text-anchor="end" textLength="4.14" lengthAdjust="spacingAndGlyphs">0</text>
<line x1="30.5" y1="361.2" x2="83.5" y2="361.2" stroke="#7c7c7c" stroke-width="1.0"/>
<line x1="38.5" y1="361.2" x2="38.5" y2="364.5" stroke="#7c7c7c" stroke-width="1.0"/>
<rect x="32.3" y="285.8" width="4.8" height="32" fill="#76777a" stroke="#4a4a4a" stroke-width="0.6"/>
<rect x="32.3" y="323.8" width="4.8" height="37.1" fill="#76777a" stroke="#4a4a4a" stroke-width="0.6"/>
<rect x="39.5" y="287.8" width="4.9" height="30" fill="#d8d9db" stroke="#4a4a4a" stroke-width="0.6"/>
<rect x="39.5" y="323.8" width="4.9" height="37.1" fill="#d8d9db" stroke="#4a4a4a" stroke-width="0.6"/>
<text x="43.1" y="370.4" font-size="8.3" text-anchor="end" transform="rotate(-45 43.1 370.4)" textLength="18.04" lengthAdjust="spacingAndGlyphs">nCD8</text>
<line x1="57" y1="361.2" x2="57" y2="364.5" stroke="#7c7c7c" stroke-width="1.0"/>
<rect x="50.8" y="352.7" width="4.8" height="8.2" fill="#76777a" stroke="#4a4a4a" stroke-width="0.6"/>
<rect x="58" y="351.3" width="4.9" height="9.6" fill="#d8d9db" stroke="#4a4a4a" stroke-width="0.6"/>
<text x="61.6" y="370.4" font-size="8.3" text-anchor="end" transform="rotate(-45 61.6 370.4)" textLength="23.52" lengthAdjust="spacingAndGlyphs">actCD8</text>
<line x1="75.5" y1="361.2" x2="75.5" y2="364.5" stroke="#7c7c7c" stroke-width="1.0"/>
<rect x="69.3" y="341.9" width="4.8" height="19" fill="#76777a" stroke="#4a4a4a" stroke-width="0.6"/>
<rect x="76.5" y="340.3" width="4.9" height="20.6" fill="#d8d9db" stroke="#4a4a4a" stroke-width="0.6"/>
<text x="80.1" y="370.4" font-size="8.3" text-anchor="end" transform="rotate(-45 80.1 370.4)" textLength="23.52" lengthAdjust="spacingAndGlyphs">cmCD8</text>
<circle cx="34.7" cy="285.7" r="1.6" fill="#1c1c1c" stroke="#1c1c1c" stroke-width="0.5"/>
<circle cx="34.7" cy="288.7" r="1.65" fill="none" stroke="#222" stroke-width="0.75"/>
<circle cx="33.5" cy="287" r="1.6" fill="#1c1c1c" stroke="#1c1c1c" stroke-width="0.5"/>
<rect x="40.45" y="285.15" width="3.1" height="3.1" fill="#1c1c1c" stroke="#1c1c1c" stroke-width="0.5"/>
<rect x="40.45" y="288.15" width="3.1" height="3.1" fill="#1c1c1c" stroke="#1c1c1c" stroke-width="0.5"/>
<rect x="39.95" y="289.95" width="3.1" height="3.1" fill="#1c1c1c" stroke="#1c1c1c" stroke-width="0.5"/>
<circle cx="53.3" cy="348.6" r="1.65" fill="none" stroke="#222" stroke-width="0.75"/>
<circle cx="53.3" cy="352" r="1.65" fill="none" stroke="#222" stroke-width="0.75"/>
<circle cx="53.3" cy="354.5" r="1.6" fill="#1c1c1c" stroke="#1c1c1c" stroke-width="0.5"/>
<circle cx="53" cy="357.2" r="1.6" fill="#1c1c1c" stroke="#1c1c1c" stroke-width="0.5"/>
<rect x="58.75" y="344.75" width="3.1" height="3.1" fill="none" stroke="#222" stroke-width="0.75"/>
<rect x="58.75" y="347.95" width="3.1" height="3.1" fill="#1c1c1c" stroke="#1c1c1c" stroke-width="0.5"/>
<rect x="58.75" y="350.95" width="3.1" height="3.1" fill="#1c1c1c" stroke="#1c1c1c" stroke-width="0.5"/>
<rect x="58.75" y="353.95" width="3.1" height="3.1" fill="#1c1c1c" stroke="#1c1c1c" stroke-width="0.5"/>
<circle cx="72.4" cy="333.3" r="1.6" fill="#1c1c1c" stroke="#1c1c1c" stroke-width="0.5"/>
<circle cx="72.4" cy="337.4" r="1.6" fill="#1c1c1c" stroke="#1c1c1c" stroke-width="0.5"/>
<circle cx="72.4" cy="345.7" r="1.65" fill="none" stroke="#222" stroke-width="0.75"/>
<circle cx="72.4" cy="349.3" r="1.65" fill="none" stroke="#222" stroke-width="0.75"/>
<rect x="77.55" y="334.65" width="3.1" height="3.1" fill="none" stroke="#222" stroke-width="0.75"/>
<rect x="77.55" y="337.95" width="3.1" height="3.1" fill="#1c1c1c" stroke="#1c1c1c" stroke-width="0.5"/>
<rect x="77.55" y="340.95" width="3.1" height="3.1" fill="#1c1c1c" stroke="#1c1c1c" stroke-width="0.5"/>
<text x="12.6" y="325" font-size="8.6" text-anchor="middle" transform="rotate(-90 12.6 325)" textLength="39.5" lengthAdjust="spacingAndGlyphs">% of CD8<tspan font-size="5.6" dy="-3">+</tspan></text>
<line x1="53.3" y1="348.6" x2="53.3" y2="357" stroke="#333" stroke-width="0.7"/>
<line x1="72.4" y1="333.3" x2="72.4" y2="347" stroke="#333" stroke-width="0.7"/>
<text x="129.3" y="156.8" font-size="9.6" textLength="5.96" lengthAdjust="spacingAndGlyphs" fill="#111">E</text>
<line x1="157.5" y1="160.3" x2="157.5" y2="239.5" stroke="#7c7c7c" stroke-width="1.0"/>
<line x1="154.5" y1="239.5" x2="157.5" y2="239.5" stroke="#7c7c7c" stroke-width="1.0"/>
<line x1="154.5" y1="220.78" x2="157.5" y2="220.78" stroke="#7c7c7c" stroke-width="1.0"/>
<line x1="154.5" y1="202.06" x2="157.5" y2="202.06" stroke="#7c7c7c" stroke-width="1.0"/>
<line x1="154.5" y1="183.34" x2="157.5" y2="183.34" stroke="#7c7c7c" stroke-width="1.0"/>
<line x1="154.5" y1="164.62" x2="157.5" y2="164.62" stroke="#7c7c7c" stroke-width="1.0"/>
<text x="152.6" y="242.5" font-size="8.2" text-anchor="end" textLength="4.38" lengthAdjust="spacingAndGlyphs">0</text>
<text x="152.6" y="223.78" font-size="8.2" text-anchor="end" textLength="8.76" lengthAdjust="spacingAndGlyphs">20</text>
<text x="152.6" y="205.06" font-size="8.2" text-anchor="end" textLength="8.76" lengthAdjust="spacingAndGlyphs">40</text>
<text x="152.6" y="186.34" font-size="8.2" text-anchor="end" textLength="8.76" lengthAdjust="spacingAndGlyphs">60</text>
<text x="152.6" y="167.62" font-size="8.2" text-anchor="end" textLength="8.76" lengthAdjust="spacingAndGlyphs">80</text>
<line x1="157.5" y1="239.5" x2="423.7" y2="239.5" stroke="#7c7c7c" stroke-width="1.0"/>
<rect x="161.4" y="237.3" width="5.2" height="1.9" fill="#76777a" stroke="#4a4a4a" stroke-width="0.6"/>
<rect x="170.1" y="236.3" width="5.7" height="2.9" fill="#d8d9db" stroke="#4a4a4a" stroke-width="0.6"/>
<line x1="168.1" y1="239.5" x2="168.1" y2="242.8" stroke="#7c7c7c" stroke-width="1.0"/>
<rect x="185.9" y="227.4" width="5.2" height="11.8" fill="#76777a" stroke="#4a4a4a" stroke-width="0.6"/>
<rect x="194.6" y="226.6" width="5.7" height="12.6" fill="#d8d9db" stroke="#4a4a4a" stroke-width="0.6"/>
<line x1="192.6" y1="239.5" x2="192.6" y2="242.8" stroke="#7c7c7c" stroke-width="1.0"/>
<rect x="210.4" y="237.3" width="5.2" height="1.9" fill="#76777a" stroke="#4a4a4a" stroke-width="0.6"/>
<rect x="219.1" y="237.3" width="5.7" height="1.9" fill="#d8d9db" stroke="#4a4a4a" stroke-width="0.6"/>
<line x1="217.1" y1="239.5" x2="217.1" y2="242.8" stroke="#7c7c7c" stroke-width="1.0"/>
<rect x="234.9" y="235" width="5.2" height="4.2" fill="#76777a" stroke="#4a4a4a" stroke-width="0.6"/>
<rect x="243.6" y="233.2" width="5.7" height="6" fill="#d8d9db" stroke="#4a4a4a" stroke-width="0.6"/>
<line x1="241.6" y1="239.5" x2="241.6" y2="242.8" stroke="#7c7c7c" stroke-width="1.0"/>
<rect x="259.4" y="236.9" width="5.2" height="2.3" fill="#76777a" stroke="#4a4a4a" stroke-width="0.6"/>
<rect x="268.1" y="235.8" width="5.7" height="3.4" fill="#d8d9db" stroke="#4a4a4a" stroke-width="0.6"/>
<line x1="266.1" y1="239.5" x2="266.1" y2="242.8" stroke="#7c7c7c" stroke-width="1.0"/>
<rect x="283.9" y="200.4" width="5.2" height="38.8" fill="#76777a" stroke="#4a4a4a" stroke-width="0.6"/>
<rect x="292.6" y="206.6" width="5.7" height="32.6" fill="#d8d9db" stroke="#4a4a4a" stroke-width="0.6"/>
<line x1="290.6" y1="239.5" x2="290.6" y2="242.8" stroke="#7c7c7c" stroke-width="1.0"/>
<rect x="308.4" y="233.3" width="5.2" height="5.9" fill="#76777a" stroke="#4a4a4a" stroke-width="0.6"/>
<rect x="317.1" y="232.2" width="5.7" height="7" fill="#d8d9db" stroke="#4a4a4a" stroke-width="0.6"/>
<line x1="315.1" y1="239.5" x2="315.1" y2="242.8" stroke="#7c7c7c" stroke-width="1.0"/>
<rect x="332.9" y="220.8" width="5.2" height="18.4" fill="#76777a" stroke="#4a4a4a" stroke-width="0.6"/>
<rect x="341.6" y="220.8" width="5.7" height="18.4" fill="#d8d9db" stroke="#4a4a4a" stroke-width="0.6"/>
<line x1="339.6" y1="239.5" x2="339.6" y2="242.8" stroke="#7c7c7c" stroke-width="1.0"/>
<rect x="357.4" y="236.8" width="5.2" height="2.4" fill="#76777a" stroke="#4a4a4a" stroke-width="0.6"/>
<rect x="366.1" y="234.6" width="5.7" height="4.6" fill="#d8d9db" stroke="#4a4a4a" stroke-width="0.6"/>
<line x1="364.1" y1="239.5" x2="364.1" y2="242.8" stroke="#7c7c7c" stroke-width="1.0"/>
<rect x="381.9" y="230.1" width="5.2" height="9.1" fill="#76777a" stroke="#4a4a4a" stroke-width="0.6"/>
<rect x="390.6" y="228.3" width="5.7" height="10.9" fill="#d8d9db" stroke="#4a4a4a" stroke-width="0.6"/>
<line x1="388.6" y1="239.5" x2="388.6" y2="242.8" stroke="#7c7c7c" stroke-width="1.0"/>
<rect x="406.4" y="224.7" width="5.2" height="14.5" fill="#76777a" stroke="#4a4a4a" stroke-width="0.6"/>
<rect x="415.1" y="223.5" width="5.7" height="15.7" fill="#d8d9db" stroke="#4a4a4a" stroke-width="0.6"/>
<line x1="413.1" y1="239.5" x2="413.1" y2="242.8" stroke="#7c7c7c" stroke-width="1.0"/>
<text x="172.9" y="248.9" font-size="8.1" text-anchor="end" transform="rotate(-45 172.9 248.9)" textLength="22.58" lengthAdjust="spacingAndGlyphs">KLRG1</text>
<text x="197.4" y="248.9" font-size="8.1" text-anchor="end" transform="rotate(-45 197.4 248.9)" textLength="17.6" lengthAdjust="spacingAndGlyphs">CD69</text>
<text x="221.9" y="248.9" font-size="8.1" text-anchor="end" transform="rotate(-45 221.9 248.9)" textLength="21.43" lengthAdjust="spacingAndGlyphs">CD127</text>
<text x="246.4" y="248.9" font-size="8.1" text-anchor="end" transform="rotate(-45 246.4 248.9)" textLength="23.72" lengthAdjust="spacingAndGlyphs">CTLA-4</text>
<text x="270.9" y="248.9" font-size="8.1" text-anchor="end" transform="rotate(-45 270.9 248.9)" textLength="21.43" lengthAdjust="spacingAndGlyphs">Eomes</text>
<text x="295.4" y="248.9" font-size="8.1" text-anchor="end" transform="rotate(-45 295.4 248.9)" textLength="23.84" lengthAdjust="spacingAndGlyphs">GATA-3</text>
<text x="319.9" y="248.9" font-size="8.1" text-anchor="end" transform="rotate(-45 319.9 248.9)" textLength="19.13" lengthAdjust="spacingAndGlyphs">Helios</text>
<text x="344.4" y="248.9" font-size="8.1" text-anchor="end" transform="rotate(-45 344.4 248.9)" textLength="16.83" lengthAdjust="spacingAndGlyphs">ICOS</text>
<text x="368.9" y="248.9" font-size="8.1" text-anchor="end" transform="rotate(-45 368.9 248.9)" textLength="16.07" lengthAdjust="spacingAndGlyphs">Ki-67</text>
<text x="393.4" y="248.9" font-size="8.1" text-anchor="end" transform="rotate(-45 393.4 248.9)" textLength="14.92" lengthAdjust="spacingAndGlyphs">Nrp1</text>
<text x="417.9" y="248.9" font-size="8.1" text-anchor="end" transform="rotate(-45 417.9 248.9)" textLength="15.69" lengthAdjust="spacingAndGlyphs">PD-1</text>
<text x="288.5" y="163.1" font-size="9.6" text-anchor="middle" textLength="176.7" lengthAdjust="spacingAndGlyphs">Surface markers &amp; Transcription factors-CD4</text>
<text x="139.4" y="203" font-size="9" text-anchor="middle" transform="rotate(-90 139.4 203)" textLength="73.6" lengthAdjust="spacingAndGlyphs">% of CD4<tspan font-size="6" dy="-3.2">+</tspan><tspan dy="3.2"> Foxp3</tspan><tspan font-size="6" dy="-3.2">neg</tspan></text>
<line x1="288.3" y1="196.4" x2="288.3" y2="207.5" stroke="#333" stroke-width="0.7"/>
<line x1="285.8" y1="196.4" x2="290.8" y2="196.4" stroke="#333" stroke-width="0.7"/>
<line x1="285.8" y1="207.5" x2="290.8" y2="207.5" stroke="#333" stroke-width="0.7"/>
<line x1="295.2" y1="197.5" x2="295.2" y2="213" stroke="#333" stroke-width="0.7"/>
<line x1="292.7" y1="197.5" x2="297.7" y2="197.5" stroke="#333" stroke-width="0.7"/>
<line x1="292.7" y1="213" x2="297.7" y2="213" stroke="#333" stroke-width="0.7"/>
<line x1="188" y1="220" x2="188" y2="233" stroke="#333" stroke-width="0.7"/>
<line x1="186" y1="220" x2="190" y2="220" stroke="#333" stroke-width="0.7"/>
<line x1="186" y1="233" x2="190" y2="233" stroke="#333" stroke-width="0.7"/>
<line x1="197" y1="218" x2="197" y2="232" stroke="#333" stroke-width="0.7"/>
<line x1="195" y1="218" x2="199" y2="218" stroke="#333" stroke-width="0.7"/>
<line x1="195" y1="232" x2="199" y2="232" stroke="#333" stroke-width="0.7"/>
<circle cx="164" cy="237" r="1.6" fill="#1c1c1c" stroke="#1c1c1c" stroke-width="0.5"/>
<circle cx="161.5" cy="237.3" r="1.6" fill="#1c1c1c" stroke="#1c1c1c" stroke-width="0.5"/>
<rect x="170.95" y="234.95" width="3.1" height="3.1" fill="#1c1c1c" stroke="#1c1c1c" stroke-width="0.5"/>
<rect x="168.95" y="235.45" width="3.1" height="3.1" fill="#1c1c1c" stroke="#1c1c1c" stroke-width="0.5"/>
<circle cx="187.9" cy="218" r="1.65" fill="none" stroke="#222" stroke-width="0.75"/>
<circle cx="187.9" cy="222.4" r="1.65" fill="none" stroke="#222" stroke-width="0.75"/>
<circle cx="187.9" cy="231.5" r="1.6" fill="#1c1c1c" stroke="#1c1c1c" stroke-width="0.5"/>
<circle cx="187.5" cy="234" r="1.6" fill="#1c1c1c" stroke="#1c1c1c" stroke-width="0.5"/>
<rect x="194.05" y="216.85" width="3.1" height="3.1" fill="none" stroke="#222" stroke-width="0.75"/>
<rect x="197.55" y="216.15" width="3.1" height="3.1" fill="none" stroke="#222" stroke-width="0.75"/>
<circle cx="197.5" cy="229" r="1.6" fill="#1c1c1c" stroke="#1c1c1c" stroke-width="0.5"/>
<rect x="194.95" y="230.45" width="3.1" height="3.1" fill="#1c1c1c" stroke="#1c1c1c" stroke-width="0.5"/>
<rect x="196.95" y="228.95" width="3.1" height="3.1" fill="#1c1c1c" stroke="#1c1c1c" stroke-width="0.5"/>
<circle cx="212" cy="237.2" r="1.6" fill="#1c1c1c" stroke="#1c1c1c" stroke-width="0.5"/>
<circle cx="214" cy="237" r="1.6" fill="#1c1c1c" stroke="#1c1c1c" stroke-width="0.5"/>
<rect x="219.95" y="235.45" width="3.1" height="3.1" fill="#1c1c1c" stroke="#1c1c1c" stroke-width="0.5"/>
<rect x="221.45" y="235.45" width="3.1" height="3.1" fill="#1c1c1c" stroke="#1c1c1c" stroke-width="0.5"/>
<circle cx="236.5" cy="229.4" r="1.6" fill="#1c1c1c" stroke="#1c1c1c" stroke-width="0.5"/>
<circle cx="236.5" cy="235" r="1.6" fill="#1c1c1c" stroke="#1c1c1c" stroke-width="0.5"/>
<circle cx="238.5" cy="236.5" r="1.6" fill="#1c1c1c" stroke="#1c1c1c" stroke-width="0.5"/>
<rect x="244.45" y="229.65" width="3.1" height="3.1" fill="#1c1c1c" stroke="#1c1c1c" stroke-width="0.5"/>
<rect x="244.45" y="232.45" width="3.1" height="3.1" fill="#1c1c1c" stroke="#1c1c1c" stroke-width="0.5"/>
<rect x="242.95" y="234.45" width="3.1" height="3.1" fill="#1c1c1c" stroke="#1c1c1c" stroke-width="0.5"/>
<circle cx="260" cy="236.6" r="1.65" fill="none" stroke="#222" stroke-width="0.75"/>
<circle cx="263.3" cy="236.6" r="1.65" fill="none" stroke="#222" stroke-width="0.75"/>
<rect x="267.95" y="234.65" width="3.1" height="3.1" fill="none" stroke="#222" stroke-width="0.75"/>
<rect x="270.95" y="233.95" width="3.1" height="3.1" fill="none" stroke="#222" stroke-width="0.75"/>
<circle cx="285.3" cy="192.5" r="1.6" fill="#1c1c1c" stroke="#1c1c1c" stroke-width="0.5"/>
<circle cx="285.3" cy="201.9" r="1.65" fill="none" stroke="#222" stroke-width="0.75"/>
<circle cx="285.3" cy="207.4" r="1.65" fill="none" stroke="#222" stroke-width="0.75"/>
<circle cx="287.5" cy="200.5" r="1.6" fill="#1c1c1c" stroke="#1c1c1c" stroke-width="0.5"/>
<rect x="292.05" y="195.55" width="3.1" height="3.1" fill="#1c1c1c" stroke="#1c1c1c" stroke-width="0.5"/>
<rect x="295.15" y="195.95" width="3.1" height="3.1" fill="#1c1c1c" stroke="#1c1c1c" stroke-width="0.5"/>
<circle cx="294.8" cy="206.7" r="1.6" fill="#1c1c1c" stroke="#1c1c1c" stroke-width="0.5"/>
<rect x="293.45" y="209.55" width="3.1" height="3.1" fill="none" stroke="#222" stroke-width="0.75"/>
<rect x="293.45" y="216.15" width="3.1" height="3.1" fill="none" stroke="#222" stroke-width="0.75"/>
<circle cx="309" cy="230.5" r="1.65" fill="none" stroke="#222" stroke-width="0.75"/>
<circle cx="311.5" cy="229.5" r="1.65" fill="none" stroke="#222" stroke-width="0.75"/>
<circle cx="309.5" cy="236.5" r="1.6" fill="#1c1c1c" stroke="#1c1c1c" stroke-width="0.5"/>
<circle cx="312" cy="236" r="1.6" fill="#1c1c1c" stroke="#1c1c1c" stroke-width="0.5"/>
<rect x="318.45" y="222.95" width="3.1" height="3.1" fill="none" stroke="#222" stroke-width="0.75"/>
<rect x="318.45" y="226.95" width="3.1" height="3.1" fill="none" stroke="#222" stroke-width="0.75"/>
<circle cx="318.5" cy="234" r="1.6" fill="#1c1c1c" stroke="#1c1c1c" stroke-width="0.5"/>
<rect x="318.45" y="234.95" width="3.1" height="3.1" fill="#1c1c1c" stroke="#1c1c1c" stroke-width="0.5"/>
<circle cx="334.5" cy="220" r="1.65" fill="none" stroke="#222" stroke-width="0.75"/>
<circle cx="337" cy="219.5" r="1.65" fill="none" stroke="#222" stroke-width="0.75"/>
<rect x="341.95" y="218.95" width="3.1" height="3.1" fill="none" stroke="#222" stroke-width="0.75"/>
<rect x="344.95" y="218.25" width="3.1" height="3.1" fill="none" stroke="#222" stroke-width="0.75"/>
<circle cx="358" cy="235.5" r="1.6" fill="#1c1c1c" stroke="#1c1c1c" stroke-width="0.5"/>
<circle cx="360.5" cy="236.5" r="1.6" fill="#1c1c1c" stroke="#1c1c1c" stroke-width="0.5"/>
<circle cx="359" cy="234.5" r="1.65" fill="none" stroke="#222" stroke-width="0.75"/>
<rect x="365.95" y="233.95" width="3.1" height="3.1" fill="#1c1c1c" stroke="#1c1c1c" stroke-width="0.5"/>
<rect x="367.95" y="233.95" width="3.1" height="3.1" fill="#1c1c1c" stroke="#1c1c1c" stroke-width="0.5"/>
<circle cx="383" cy="229.5" r="1.65" fill="none" stroke="#222" stroke-width="0.75"/>
<circle cx="384" cy="232.5" r="1.6" fill="#1c1c1c" stroke="#1c1c1c" stroke-width="0.5"/>
<circle cx="385.5" cy="234.5" r="1.6" fill="#1c1c1c" stroke="#1c1c1c" stroke-width="0.5"/>
<rect x="390.45" y="225.95" width="3.1" height="3.1" fill="none" stroke="#222" stroke-width="0.75"/>
<rect x="393.45" y="226.45" width="3.1" height="3.1" fill="none" stroke="#222" stroke-width="0.75"/>
<rect x="391.45" y="230.45" width="3.1" height="3.1" fill="#1c1c1c" stroke="#1c1c1c" stroke-width="0.5"/>
<rect x="392.95" y="232.95" width="3.1" height="3.1" fill="#1c1c1c" stroke="#1c1c1c" stroke-width="0.5"/>
<circle cx="407.5" cy="223.5" r="1.65" fill="none" stroke="#222" stroke-width="0.75"/>
<circle cx="410" cy="222.5" r="1.65" fill="none" stroke="#222" stroke-width="0.75"/>
<circle cx="408.5" cy="228.5" r="1.6" fill="#1c1c1c" stroke="#1c1c1c" stroke-width="0.5"/>
<rect x="414.45" y="220.95" width="3.1" height="3.1" fill="none" stroke="#222" stroke-width="0.75"/>
<rect x="416.95" y="219.95" width="3.1" height="3.1" fill="none" stroke="#222" stroke-width="0.75"/>
<rect x="415.95" y="224.95" width="3.1" height="3.1" fill="#1c1c1c" stroke="#1c1c1c" stroke-width="0.5"/>
<rect x="417.45" y="226.95" width="3.1" height="3.1" fill="#1c1c1c" stroke="#1c1c1c" stroke-width="0.5"/>
<text x="129.8" y="278.2" font-size="9.6" textLength="5.45" lengthAdjust="spacingAndGlyphs" fill="#111">F</text>
<line x1="157.5" y1="281.5" x2="157.5" y2="317.8" stroke="#7c7c7c" stroke-width="1.0"/>
<line x1="155.5" y1="317.8" x2="159.5" y2="317.8" stroke="#7c7c7c" stroke-width="1.0"/>
<line x1="157.5" y1="324.5" x2="157.5" y2="360.9" stroke="#7c7c7c" stroke-width="1.0"/>
<line x1="154.5" y1="284.8" x2="157.5" y2="284.8" stroke="#7c7c7c" stroke-width="1.0"/>
<line x1="154.5" y1="297.1" x2="157.5" y2="297.1" stroke="#7c7c7c" stroke-width="1.0"/>
<line x1="154.5" y1="309.4" x2="157.5" y2="309.4" stroke="#7c7c7c" stroke-width="1.0"/>
<line x1="154.5" y1="324.5" x2="157.5" y2="324.5" stroke="#7c7c7c" stroke-width="1.0"/>
<line x1="154.5" y1="333.6" x2="157.5" y2="333.6" stroke="#7c7c7c" stroke-width="1.0"/>
<line x1="154.5" y1="342.7" x2="157.5" y2="342.7" stroke="#7c7c7c" stroke-width="1.0"/>
<line x1="154.5" y1="351.8" x2="157.5" y2="351.8" stroke="#7c7c7c" stroke-width="1.0"/>
<line x1="154.5" y1="360.9" x2="157.5" y2="360.9" stroke="#7c7c7c" stroke-width="1.0"/>
<text x="152.6" y="287.8" font-size="8.2" text-anchor="end" textLength="8.76" lengthAdjust="spacingAndGlyphs">80</text>
<text x="152.6" y="300.1" font-size="8.2" text-anchor="end" textLength="8.76" lengthAdjust="spacingAndGlyphs">60</text>
<text x="152.6" y="312.4" font-size="8.2" text-anchor="end" textLength="8.76" lengthAdjust="spacingAndGlyphs">40</text>
<text x="152.6" y="327.5" font-size="8.2" text-anchor="end" textLength="8.76" lengthAdjust="spacingAndGlyphs">20</text>
<text x="152.6" y="336.6" font-size="8.2" text-anchor="end" textLength="8.76" lengthAdjust="spacingAndGlyphs">15</text>
<text x="152.6" y="345.7" font-size="8.2" text-anchor="end" textLength="8.76" lengthAdjust="spacingAndGlyphs">10</text>
<text x="152.6" y="354.8" font-size="8.2" text-anchor="end" textLength="4.38" lengthAdjust="spacingAndGlyphs">5</text>
<text x="152.6" y="363.9" font-size="8.2" text-anchor="end" textLength="4.38" lengthAdjust="spacingAndGlyphs">0</text>
<line x1="157.5" y1="360.9" x2="423.7" y2="360.9" stroke="#7c7c7c" stroke-width="1.0"/>
<rect x="161.4" y="356.8" width="5.2" height="3.8" fill="#76777a" stroke="#4a4a4a" stroke-width="0.6"/>
<rect x="170.1" y="354.2" width="5.7" height="6.4" fill="#d8d9db" stroke="#4a4a4a" stroke-width="0.6"/>
<line x1="168.1" y1="360.9" x2="168.1" y2="364.2" stroke="#7c7c7c" stroke-width="1.0"/>
<rect x="185.9" y="346.1" width="5.2" height="14.5" fill="#76777a" stroke="#4a4a4a" stroke-width="0.6"/>
<rect x="194.6" y="345.5" width="5.7" height="15.1" fill="#d8d9db" stroke="#4a4a4a" stroke-width="0.6"/>
<line x1="192.6" y1="360.9" x2="192.6" y2="364.2" stroke="#7c7c7c" stroke-width="1.0"/>
<rect x="210.4" y="357.8" width="5.2" height="2.8" fill="#76777a" stroke="#4a4a4a" stroke-width="0.6"/>
<rect x="219.1" y="358.3" width="5.7" height="2.3" fill="#d8d9db" stroke="#4a4a4a" stroke-width="0.6"/>
<line x1="217.1" y1="360.9" x2="217.1" y2="364.2" stroke="#7c7c7c" stroke-width="1.0"/>
<rect x="234.9" y="352.4" width="5.2" height="8.2" fill="#76777a" stroke="#4a4a4a" stroke-width="0.6"/>
<rect x="243.6" y="350.1" width="5.7" height="10.5" fill="#d8d9db" stroke="#4a4a4a" stroke-width="0.6"/>
<line x1="241.6" y1="360.9" x2="241.6" y2="364.2" stroke="#7c7c7c" stroke-width="1.0"/>
<rect x="259.4" y="356.4" width="5.2" height="4.2" fill="#76777a" stroke="#4a4a4a" stroke-width="0.6"/>
<rect x="268.1" y="351.3" width="5.7" height="9.3" fill="#d8d9db" stroke="#4a4a4a" stroke-width="0.6"/>
<line x1="266.1" y1="360.9" x2="266.1" y2="364.2" stroke="#7c7c7c" stroke-width="1.0"/>
<rect x="283.9" y="310.7" width="5.2" height="6.8" fill="#76777a" stroke="#4a4a4a" stroke-width="0.6"/>
<rect x="283.9" y="324.8" width="5.2" height="35.8" fill="#76777a" stroke="#4a4a4a" stroke-width="0.6"/>
<rect x="292.6" y="314.2" width="5.7" height="3.3" fill="#d8d9db" stroke="#4a4a4a" stroke-width="0.6"/>
<rect x="292.6" y="324.8" width="5.7" height="35.8" fill="#d8d9db" stroke="#4a4a4a" stroke-width="0.6"/>
<line x1="290.6" y1="360.9" x2="290.6" y2="364.2" stroke="#7c7c7c" stroke-width="1.0"/>
<rect x="308.4" y="348" width="5.2" height="12.6" fill="#76777a" stroke="#4a4a4a" stroke-width="0.6"/>
<rect x="317.1" y="347.6" width="5.7" height="13" fill="#d8d9db" stroke="#4a4a4a" stroke-width="0.6"/>
<line x1="315.1" y1="360.9" x2="315.1" y2="364.2" stroke="#7c7c7c" stroke-width="1.0"/>
<rect x="332.9" y="346.2" width="5.2" height="14.4" fill="#76777a" stroke="#4a4a4a" stroke-width="0.6"/>
<rect x="341.6" y="337.1" width="5.7" height="23.5" fill="#d8d9db" stroke="#4a4a4a" stroke-width="0.6"/>
<line x1="339.6" y1="360.9" x2="339.6" y2="364.2" stroke="#7c7c7c" stroke-width="1.0"/>
<rect x="357.4" y="355.5" width="5.2" height="5.1" fill="#76777a" stroke="#4a4a4a" stroke-width="0.6"/>
<rect x="366.1" y="353.9" width="5.7" height="6.7" fill="#d8d9db" stroke="#4a4a4a" stroke-width="0.6"/>
<line x1="364.1" y1="360.9" x2="364.1" y2="364.2" stroke="#7c7c7c" stroke-width="1.0"/>
<rect x="381.9" y="357.9" width="5.2" height="2.7" fill="#76777a" stroke="#4a4a4a" stroke-width="0.6"/>
<rect x="390.6" y="356.2" width="5.7" height="4.4" fill="#d8d9db" stroke="#4a4a4a" stroke-width="0.6"/>
<line x1="388.6" y1="360.9" x2="388.6" y2="364.2" stroke="#7c7c7c" stroke-width="1.0"/>
<rect x="406.4" y="355" width="5.2" height="5.6" fill="#76777a" stroke="#4a4a4a" stroke-width="0.6"/>
<rect x="415.1" y="351.5" width="5.7" height="9.1" fill="#d8d9db" stroke="#4a4a4a" stroke-width="0.6"/>
<line x1="413.1" y1="360.9" x2="413.1" y2="364.2" stroke="#7c7c7c" stroke-width="1.0"/>
<text x="172.9" y="370.3" font-size="8.1" text-anchor="end" transform="rotate(-45 172.9 370.3)" textLength="22.58" lengthAdjust="spacingAndGlyphs">KLRG1</text>
<text x="197.4" y="370.3" font-size="8.1" text-anchor="end" transform="rotate(-45 197.4 370.3)" textLength="17.6" lengthAdjust="spacingAndGlyphs">CD69</text>
<text x="221.9" y="370.3" font-size="8.1" text-anchor="end" transform="rotate(-45 221.9 370.3)" textLength="21.43" lengthAdjust="spacingAndGlyphs">CD127</text>
<text x="246.4" y="370.3" font-size="8.1" text-anchor="end" transform="rotate(-45 246.4 370.3)" textLength="23.72" lengthAdjust="spacingAndGlyphs">CTLA-4</text>
<text x="270.9" y="370.3" font-size="8.1" text-anchor="end" transform="rotate(-45 270.9 370.3)" textLength="21.43" lengthAdjust="spacingAndGlyphs">Eomes</text>
<text x="295.4" y="370.3" font-size="8.1" text-anchor="end" transform="rotate(-45 295.4 370.3)" textLength="23.84" lengthAdjust="spacingAndGlyphs">GATA-3</text>
<text x="319.9" y="370.3" font-size="8.1" text-anchor="end" transform="rotate(-45 319.9 370.3)" textLength="19.13" lengthAdjust="spacingAndGlyphs">Helios</text>
<text x="344.4" y="370.3" font-size="8.1" text-anchor="end" transform="rotate(-45 344.4 370.3)" textLength="16.83" lengthAdjust="spacingAndGlyphs">ICOS</text>
<text x="368.9" y="370.3" font-size="8.1" text-anchor="end" transform="rotate(-45 368.9 370.3)" textLength="16.07" lengthAdjust="spacingAndGlyphs">Ki-67</text>
<text x="393.4" y="370.3" font-size="8.1" text-anchor="end" transform="rotate(-45 393.4 370.3)" textLength="14.92" lengthAdjust="spacingAndGlyphs">Nrp1</text>
<text x="417.9" y="370.3" font-size="8.1" text-anchor="end" transform="rotate(-45 417.9 370.3)" textLength="15.69" lengthAdjust="spacingAndGlyphs">PD-1</text>
<text x="288.5" y="285.3" font-size="9.6" text-anchor="middle" textLength="176.7" lengthAdjust="spacingAndGlyphs">Surface markers &amp; Transcription factors-CD8</text>
<text x="139.4" y="325.3" font-size="9" text-anchor="middle" transform="rotate(-90 139.4 325.3)" textLength="38.7" lengthAdjust="spacingAndGlyphs">% of CD8<tspan font-size="6" dy="-3.2">+</tspan></text>
<line x1="310.3" y1="332.6" x2="310.3" y2="356" stroke="#333" stroke-width="0.7"/>
<line x1="307.8" y1="332.6" x2="312.8" y2="332.6" stroke="#333" stroke-width="0.7"/>
<line x1="307.8" y1="356" x2="312.8" y2="356" stroke="#333" stroke-width="0.7"/>
<line x1="319.5" y1="331.4" x2="319.5" y2="356" stroke="#333" stroke-width="0.7"/>
<line x1="317" y1="331.4" x2="322" y2="331.4" stroke="#333" stroke-width="0.7"/>
<line x1="317" y1="356" x2="322" y2="356" stroke="#333" stroke-width="0.7"/>
<line x1="285.7" y1="302" x2="285.7" y2="316" stroke="#333" stroke-width="0.7"/>
<line x1="283.2" y1="302" x2="288.2" y2="302" stroke="#333" stroke-width="0.7"/>
<line x1="283.2" y1="316" x2="288.2" y2="316" stroke="#333" stroke-width="0.7"/>
<circle cx="162" cy="357.5" r="1.6" fill="#1c1c1c" stroke="#1c1c1c" stroke-width="0.5"/>
<circle cx="164.5" cy="357" r="1.6" fill="#1c1c1c" stroke="#1c1c1c" stroke-width="0.5"/>
<rect x="169.95" y="353.45" width="3.1" height="3.1" fill="#1c1c1c" stroke="#1c1c1c" stroke-width="0.5"/>
<rect x="172.45" y="353.95" width="3.1" height="3.1" fill="#1c1c1c" stroke="#1c1c1c" stroke-width="0.5"/>
<circle cx="187.9" cy="332.2" r="1.65" fill="none" stroke="#222" stroke-width="0.75"/>
<circle cx="187.9" cy="339.3" r="1.65" fill="none" stroke="#222" stroke-width="0.75"/>
<circle cx="187.5" cy="354" r="1.6" fill="#1c1c1c" stroke="#1c1c1c" stroke-width="0.5"/>
<circle cx="189.5" cy="355.5" r="1.6" fill="#1c1c1c" stroke="#1c1c1c" stroke-width="0.5"/>
<rect x="195.45" y="329.55" width="3.1" height="3.1" fill="none" stroke="#222" stroke-width="0.75"/>
<rect x="195.45" y="332.05" width="3.1" height="3.1" fill="none" stroke="#222" stroke-width="0.75"/>
<rect x="194.45" y="348.45" width="3.1" height="3.1" fill="#1c1c1c" stroke="#1c1c1c" stroke-width="0.5"/>
<rect x="196.95" y="350.95" width="3.1" height="3.1" fill="#1c1c1c" stroke="#1c1c1c" stroke-width="0.5"/>
<rect x="195.45" y="353.45" width="3.1" height="3.1" fill="#1c1c1c" stroke="#1c1c1c" stroke-width="0.5"/>
<circle cx="212.6" cy="353.4" r="1.6" fill="#1c1c1c" stroke="#1c1c1c" stroke-width="0.5"/>
<circle cx="211" cy="357.5" r="1.6" fill="#1c1c1c" stroke="#1c1c1c" stroke-width="0.5"/>
<circle cx="214" cy="357.5" r="1.6" fill="#1c1c1c" stroke="#1c1c1c" stroke-width="0.5"/>
<rect x="219.45" y="356.45" width="3.1" height="3.1" fill="#1c1c1c" stroke="#1c1c1c" stroke-width="0.5"/>
<rect x="221.45" y="356.45" width="3.1" height="3.1" fill="#1c1c1c" stroke="#1c1c1c" stroke-width="0.5"/>
<circle cx="236.8" cy="342.5" r="1.6" fill="#1c1c1c" stroke="#1c1c1c" stroke-width="0.5"/>
<circle cx="236.8" cy="354.5" r="1.6" fill="#1c1c1c" stroke="#1c1c1c" stroke-width="0.5"/>
<rect x="244.45" y="348.45" width="3.1" height="3.1" fill="#1c1c1c" stroke="#1c1c1c" stroke-width="0.5"/>
<rect x="244.45" y="351.45" width="3.1" height="3.1" fill="#1c1c1c" stroke="#1c1c1c" stroke-width="0.5"/>
<circle cx="261" cy="352.5" r="1.65" fill="none" stroke="#222" stroke-width="0.75"/>
<rect x="268.95" y="347.45" width="3.1" height="3.1" fill="none" stroke="#222" stroke-width="0.75"/>
<rect x="268.95" y="350.95" width="3.1" height="3.1" fill="none" stroke="#222" stroke-width="0.75"/>
<circle cx="285.7" cy="301.5" r="1.6" fill="#1c1c1c" stroke="#1c1c1c" stroke-width="0.5"/>
<circle cx="285.7" cy="306.5" r="1.65" fill="none" stroke="#222" stroke-width="0.75"/>
<circle cx="285.7" cy="310.5" r="1.65" fill="none" stroke="#222" stroke-width="0.75"/>
<circle cx="285.7" cy="314" r="1.65" fill="none" stroke="#222" stroke-width="0.75"/>
<rect x="292.95" y="302.95" width="3.1" height="3.1" fill="#1c1c1c" stroke="#1c1c1c" stroke-width="0.5"/>
<rect x="294.65" y="305.35" width="3.1" height="3.1" fill="#1c1c1c" stroke="#1c1c1c" stroke-width="0.5"/>
<rect x="292.45" y="308.35" width="3.1" height="3.1" fill="#1c1c1c" stroke="#1c1c1c" stroke-width="0.5"/>
<rect x="293.45" y="323.55" width="3.1" height="3.1" fill="none" stroke="#222" stroke-width="0.75"/>
<rect x="293.45" y="331.45" width="3.1" height="3.1" fill="none" stroke="#222" stroke-width="0.75"/>
<circle cx="310.2" cy="327.4" r="1.65" fill="none" stroke="#222" stroke-width="0.75"/>
<circle cx="310.2" cy="344.9" r="1.65" fill="none" stroke="#222" stroke-width="0.75"/>
<circle cx="309.5" cy="358" r="1.6" fill="#1c1c1c" stroke="#1c1c1c" stroke-width="0.5"/>
<rect x="317.95" y="323.55" width="3.1" height="3.1" fill="none" stroke="#222" stroke-width="0.75"/>
<rect x="317.95" y="335.25" width="3.1" height="3.1" fill="none" stroke="#222" stroke-width="0.75"/>
<circle cx="318.5" cy="358" r="1.6" fill="#1c1c1c" stroke="#1c1c1c" stroke-width="0.5"/>
<circle cx="334.9" cy="341.9" r="1.65" fill="none" stroke="#222" stroke-width="0.75"/>
<circle cx="334.9" cy="348.2" r="1.65" fill="none" stroke="#222" stroke-width="0.75"/>
<rect x="342.45" y="331.75" width="3.1" height="3.1" fill="none" stroke="#222" stroke-width="0.75"/>
<rect x="342.45" y="339.15" width="3.1" height="3.1" fill="none" stroke="#222" stroke-width="0.75"/>
<circle cx="358" cy="354.5" r="1.65" fill="none" stroke="#222" stroke-width="0.75"/>
<circle cx="360.5" cy="356" r="1.6" fill="#1c1c1c" stroke="#1c1c1c" stroke-width="0.5"/>
<circle cx="358.5" cy="357.5" r="1.6" fill="#1c1c1c" stroke="#1c1c1c" stroke-width="0.5"/>
<rect x="367.05" y="347.55" width="3.1" height="3.1" fill="none" stroke="#222" stroke-width="0.75"/>
<rect x="366.45" y="351.45" width="3.1" height="3.1" fill="#1c1c1c" stroke="#1c1c1c" stroke-width="0.5"/>
<rect x="368.45" y="353.45" width="3.1" height="3.1" fill="#1c1c1c" stroke="#1c1c1c" stroke-width="0.5"/>
<circle cx="382" cy="356" r="1.65" fill="none" stroke="#222" stroke-width="0.75"/>
<circle cx="385.5" cy="354" r="1.65" fill="none" stroke="#222" stroke-width="0.75"/>
<circle cx="383" cy="358.5" r="1.6" fill="#1c1c1c" stroke="#1c1c1c" stroke-width="0.5"/>
<rect x="390.95" y="348.95" width="3.1" height="3.1" fill="none" stroke="#222" stroke-width="0.75"/>
<rect x="392.95" y="350.95" width="3.1" height="3.1" fill="none" stroke="#222" stroke-width="0.75"/>
<rect x="391.45" y="355.95" width="3.1" height="3.1" fill="#1c1c1c" stroke="#1c1c1c" stroke-width="0.5"/>
<circle cx="407" cy="354" r="1.65" fill="none" stroke="#222" stroke-width="0.75"/>
<circle cx="410" cy="353.5" r="1.65" fill="none" stroke="#222" stroke-width="0.75"/>
<circle cx="408" cy="357.5" r="1.6" fill="#1c1c1c" stroke="#1c1c1c" stroke-width="0.5"/>
<rect x="414.45" y="341.95" width="3.1" height="3.1" fill="none" stroke="#222" stroke-width="0.75"/>
<rect x="417.25" y="344.35" width="3.1" height="3.1" fill="none" stroke="#222" stroke-width="0.75"/>
<circle cx="417.5" cy="351.5" r="1.6" fill="#1c1c1c" stroke="#1c1c1c" stroke-width="0.5"/>
<rect x="415.45" y="353.95" width="3.1" height="3.1" fill="#1c1c1c" stroke="#1c1c1c" stroke-width="0.5"/>
<rect x="417.45" y="354.45" width="3.1" height="3.1" fill="#1c1c1c" stroke="#1c1c1c" stroke-width="0.5"/>
<text x="435.7" y="157.4" font-size="9.6" textLength="6.94" lengthAdjust="spacingAndGlyphs" fill="#111">G</text>
<line x1="468.5" y1="159.1" x2="468.5" y2="196.4" stroke="#7c7c7c" stroke-width="1.0"/>
<line x1="466.5" y1="196.4" x2="470.5" y2="196.4" stroke="#7c7c7c" stroke-width="1.0"/>
<line x1="468.5" y1="202" x2="468.5" y2="239.5" stroke="#7c7c7c" stroke-width="1.0"/>
<line x1="465.5" y1="160.7" x2="468.5" y2="160.7" stroke="#7c7c7c" stroke-width="1.0"/>
<line x1="465.5" y1="171" x2="468.5" y2="171" stroke="#7c7c7c" stroke-width="1.0"/>
<line x1="465.5" y1="181.3" x2="468.5" y2="181.3" stroke="#7c7c7c" stroke-width="1.0"/>
<line x1="465.5" y1="191.6" x2="468.5" y2="191.6" stroke="#7c7c7c" stroke-width="1.0"/>
<line x1="465.5" y1="202.5" x2="468.5" y2="202.5" stroke="#7c7c7c" stroke-width="1.0"/>
<line x1="465.5" y1="209.9" x2="468.5" y2="209.9" stroke="#7c7c7c" stroke-width="1.0"/>
<line x1="465.5" y1="217.3" x2="468.5" y2="217.3" stroke="#7c7c7c" stroke-width="1.0"/>
<line x1="465.5" y1="224.7" x2="468.5" y2="224.7" stroke="#7c7c7c" stroke-width="1.0"/>
<line x1="465.5" y1="232.1" x2="468.5" y2="232.1" stroke="#7c7c7c" stroke-width="1.0"/>
<line x1="465.5" y1="239.5" x2="468.5" y2="239.5" stroke="#7c7c7c" stroke-width="1.0"/>
<text x="463.6" y="163.7" font-size="8.2" text-anchor="end" textLength="8.76" lengthAdjust="spacingAndGlyphs">80</text>
<text x="463.6" y="174" font-size="8.2" text-anchor="end" textLength="8.76" lengthAdjust="spacingAndGlyphs">60</text>
<text x="463.6" y="184.3" font-size="8.2" text-anchor="end" textLength="8.76" lengthAdjust="spacingAndGlyphs">40</text>
<text x="463.6" y="194.6" font-size="8.2" text-anchor="end" textLength="8.76" lengthAdjust="spacingAndGlyphs">20</text>
<text x="463.6" y="205.5" font-size="8.2" text-anchor="end" textLength="8.76" lengthAdjust="spacingAndGlyphs">10</text>
<text x="463.6" y="212.9" font-size="8.2" text-anchor="end" textLength="4.38" lengthAdjust="spacingAndGlyphs">8</text>
<text x="463.6" y="220.3" font-size="8.2" text-anchor="end" textLength="4.38" lengthAdjust="spacingAndGlyphs">6</text>
<text x="463.6" y="227.7" font-size="8.2" text-anchor="end" textLength="4.38" lengthAdjust="spacingAndGlyphs">4</text>
<text x="463.6" y="235.1" font-size="8.2" text-anchor="end" textLength="4.38" lengthAdjust="spacingAndGlyphs">2</text>
<text x="463.6" y="242.5" font-size="8.2" text-anchor="end" textLength="4.38" lengthAdjust="spacingAndGlyphs">0</text>
<line x1="468.5" y1="239.5" x2="680" y2="239.5" stroke="#7c7c7c" stroke-width="1.0"/>
<rect x="472.2" y="230.5" width="5.6" height="8.7" fill="#76777a" stroke="#4a4a4a" stroke-width="0.6"/>
<rect x="482.5" y="233.7" width="6.3" height="5.5" fill="#d8d9db" stroke="#4a4a4a" stroke-width="0.6"/>
<line x1="480.4" y1="239.5" x2="480.4" y2="242.8" stroke="#7c7c7c" stroke-width="1.0"/>
<text x="480.4" y="251.4" font-size="7.6" text-anchor="middle" textLength="19.2" lengthAdjust="spacingAndGlyphs">AREG</text>
<rect x="499.2" y="187.1" width="5.6" height="9" fill="#76777a" stroke="#4a4a4a" stroke-width="0.6"/>
<rect x="499.2" y="202.3" width="5.6" height="36.9" fill="#76777a" stroke="#4a4a4a" stroke-width="0.6"/>
<line x1="502" y1="202" x2="502" y2="239.5" stroke="#4a4a4a" stroke-width="0.8"/>
<rect x="509.5" y="191.6" width="6.3" height="4.5" fill="#fbfbfb" stroke="#4a4a4a" stroke-width="0.6"/>
<rect x="509.5" y="202.3" width="6.3" height="36.9" fill="#fbfbfb" stroke="#4a4a4a" stroke-width="0.6"/>
<line x1="511.68" y1="202" x2="511.68" y2="239.5" stroke="#6a6a6a" stroke-width="0.6"/>
<line x1="513.75" y1="202" x2="513.75" y2="239.5" stroke="#6a6a6a" stroke-width="0.6"/>
<line x1="507.4" y1="239.5" x2="507.4" y2="242.8" stroke="#7c7c7c" stroke-width="1.0"/>
<text x="507.4" y="251.4" font-size="7.6" text-anchor="middle" textLength="14.1" lengthAdjust="spacingAndGlyphs">IL-2</text>
<rect x="526.2" y="237.3" width="5.6" height="1.9" fill="#76777a" stroke="#4a4a4a" stroke-width="0.6"/>
<rect x="536.5" y="236.8" width="6.3" height="2.4" fill="#d8d9db" stroke="#4a4a4a" stroke-width="0.6"/>
<line x1="534.4" y1="239.5" x2="534.4" y2="242.8" stroke="#7c7c7c" stroke-width="1.0"/>
<text x="534.4" y="251.4" font-size="7.6" text-anchor="middle" textLength="14.5" lengthAdjust="spacingAndGlyphs">IL-4</text>
<rect x="553.2" y="237.3" width="5.6" height="1.9" fill="#76777a" stroke="#4a4a4a" stroke-width="0.6"/>
<rect x="563.5" y="235.8" width="6.3" height="3.4" fill="#d8d9db" stroke="#4a4a4a" stroke-width="0.6"/>
<line x1="561.4" y1="239.5" x2="561.4" y2="242.8" stroke="#7c7c7c" stroke-width="1.0"/>
<text x="561.4" y="251.4" font-size="7.6" text-anchor="middle" textLength="18.3" lengthAdjust="spacingAndGlyphs">IL-10</text>
<rect x="580.2" y="237.5" width="5.6" height="1.7" fill="#76777a" stroke="#4a4a4a" stroke-width="0.6"/>
<rect x="590.5" y="237.3" width="6.3" height="1.9" fill="#d8d9db" stroke="#4a4a4a" stroke-width="0.6"/>
<line x1="588.4" y1="239.5" x2="588.4" y2="242.8" stroke="#7c7c7c" stroke-width="1.0"/>
<text x="588.4" y="251.4" font-size="7.6" text-anchor="middle" textLength="18.3" lengthAdjust="spacingAndGlyphs">IL-17</text>
<rect x="607.2" y="229.4" width="5.6" height="9.8" fill="#76777a" stroke="#4a4a4a" stroke-width="0.6"/>
<rect x="617.5" y="230.1" width="6.3" height="9.1" fill="#d8d9db" stroke="#4a4a4a" stroke-width="0.6"/>
<line x1="615.4" y1="239.5" x2="615.4" y2="242.8" stroke="#7c7c7c" stroke-width="1.0"/>
<text x="615.4" y="251.4" font-size="7.6" text-anchor="middle" textLength="19.3" lengthAdjust="spacingAndGlyphs">IFN-γ</text>
<rect x="634.2" y="236.8" width="5.6" height="2.4" fill="#76777a" stroke="#4a4a4a" stroke-width="0.6"/>
<rect x="644.5" y="234.3" width="6.3" height="4.9" fill="#d8d9db" stroke="#4a4a4a" stroke-width="0.6"/>
<line x1="642.4" y1="239.5" x2="642.4" y2="242.8" stroke="#7c7c7c" stroke-width="1.0"/>
<text x="642.4" y="251.4" font-size="7.6" text-anchor="middle" textLength="20.3" lengthAdjust="spacingAndGlyphs">TGF-β</text>
<rect x="661.2" y="179.3" width="5.6" height="16.8" fill="#76777a" stroke="#4a4a4a" stroke-width="0.6"/>
<rect x="661.2" y="202.3" width="5.6" height="36.9" fill="#76777a" stroke="#4a4a4a" stroke-width="0.6"/>
<line x1="664" y1="202" x2="664" y2="239.5" stroke="#4a4a4a" stroke-width="0.8"/>
<rect x="671.5" y="181" width="6.3" height="15.1" fill="#d8d9db" stroke="#4a4a4a" stroke-width="0.6"/>
<rect x="671.5" y="202.3" width="6.3" height="36.9" fill="#d8d9db" stroke="#4a4a4a" stroke-width="0.6"/>
<line x1="673.68" y1="202" x2="673.68" y2="239.5" stroke="#a8a8a8" stroke-width="0.6"/>
<line x1="675.75" y1="202" x2="675.75" y2="239.5" stroke="#a8a8a8" stroke-width="0.6"/>
<line x1="669.4" y1="239.5" x2="669.4" y2="242.8" stroke="#7c7c7c" stroke-width="1.0"/>
<text x="669.4" y="251.4" font-size="7.6" text-anchor="middle" textLength="20.9" lengthAdjust="spacingAndGlyphs">TNF-α</text>
<text x="575.8" y="163.1" font-size="9.6" text-anchor="middle" textLength="100.4" lengthAdjust="spacingAndGlyphs">Cytokine production-CD4</text>
<text x="449.3" y="203.3" font-size="9" text-anchor="middle" transform="rotate(-90 449.3 203.3)" textLength="73" lengthAdjust="spacingAndGlyphs">% of CD4<tspan font-size="6" dy="-3.2">+</tspan><tspan dy="3.2"> Foxp3</tspan><tspan font-size="6" dy="-3.2">neg</tspan></text>
<line x1="475.3" y1="227.5" x2="475.3" y2="233" stroke="#333" stroke-width="0.7"/>
<line x1="472.8" y1="227.5" x2="477.8" y2="227.5" stroke="#333" stroke-width="0.7"/>
<line x1="472.8" y1="233" x2="477.8" y2="233" stroke="#333" stroke-width="0.7"/>
<line x1="485.5" y1="229.5" x2="485.5" y2="237" stroke="#333" stroke-width="0.7"/>
<line x1="483" y1="229.5" x2="488" y2="229.5" stroke="#333" stroke-width="0.7"/>
<line x1="483" y1="237" x2="488" y2="237" stroke="#333" stroke-width="0.7"/>
<line x1="502.7" y1="177.5" x2="502.7" y2="195" stroke="#333" stroke-width="0.7"/>
<line x1="512.4" y1="178" x2="512.4" y2="201" stroke="#333" stroke-width="0.7"/>
<line x1="509.4" y1="194.3" x2="515.5" y2="194.3" stroke="#333" stroke-width="0.7"/>
<line x1="664.4" y1="170.1" x2="664.4" y2="188" stroke="#333" stroke-width="0.7"/>
<line x1="661.9" y1="170.1" x2="666.9" y2="170.1" stroke="#333" stroke-width="0.7"/>
<line x1="661.9" y1="188" x2="666.9" y2="188" stroke="#333" stroke-width="0.7"/>
<line x1="674.9" y1="178" x2="674.9" y2="192" stroke="#333" stroke-width="0.7"/>
<line x1="672.4" y1="178" x2="677.4" y2="178" stroke="#333" stroke-width="0.7"/>
<line x1="672.4" y1="192" x2="677.4" y2="192" stroke="#333" stroke-width="0.7"/>
<circle cx="473.5" cy="229" r="1.6" fill="#1c1c1c" stroke="#1c1c1c" stroke-width="0.5"/>
<circle cx="476.5" cy="231" r="1.6" fill="#1c1c1c" stroke="#1c1c1c" stroke-width="0.5"/>
<circle cx="474.5" cy="235" r="1.6" fill="#1c1c1c" stroke="#1c1c1c" stroke-width="0.5"/>
<rect x="483.95" y="227.95" width="3.1" height="3.1" fill="#1c1c1c" stroke="#1c1c1c" stroke-width="0.5"/>
<rect x="483.95" y="233.95" width="3.1" height="3.1" fill="#1c1c1c" stroke="#1c1c1c" stroke-width="0.5"/>
<circle cx="501.2" cy="176.5" r="1.6" fill="#1c1c1c" stroke="#1c1c1c" stroke-width="0.5"/>
<circle cx="504" cy="176.5" r="1.6" fill="#1c1c1c" stroke="#1c1c1c" stroke-width="0.5"/>
<circle cx="502.7" cy="178.5" r="1.6" fill="#1c1c1c" stroke="#1c1c1c" stroke-width="0.5"/>
<circle cx="502.7" cy="216.5" r="1.65" fill="none" stroke="#222" stroke-width="0.75"/>
<circle cx="502.7" cy="221.5" r="1.65" fill="none" stroke="#222" stroke-width="0.75"/>
<rect x="508.95" y="222.15" width="3.1" height="3.1" fill="none" stroke="#222" stroke-width="0.75"/>
<rect x="512.25" y="219.65" width="3.1" height="3.1" fill="none" stroke="#222" stroke-width="0.75"/>
<circle cx="528" cy="237" r="1.6" fill="#1c1c1c" stroke="#1c1c1c" stroke-width="0.5"/>
<circle cx="531" cy="237.3" r="1.6" fill="#1c1c1c" stroke="#1c1c1c" stroke-width="0.5"/>
<rect x="536.95" y="235.45" width="3.1" height="3.1" fill="#1c1c1c" stroke="#1c1c1c" stroke-width="0.5"/>
<rect x="539.45" y="235.45" width="3.1" height="3.1" fill="#1c1c1c" stroke="#1c1c1c" stroke-width="0.5"/>
<circle cx="554.6" cy="231.5" r="1.65" fill="none" stroke="#222" stroke-width="0.75"/>
<circle cx="556.5" cy="233.5" r="1.65" fill="none" stroke="#222" stroke-width="0.75"/>
<circle cx="555" cy="236.5" r="1.6" fill="#1c1c1c" stroke="#1c1c1c" stroke-width="0.5"/>
<circle cx="557.5" cy="237" r="1.6" fill="#1c1c1c" stroke="#1c1c1c" stroke-width="0.5"/>
<rect x="563.45" y="231.45" width="3.1" height="3.1" fill="none" stroke="#222" stroke-width="0.75"/>
<rect x="566.45" y="230.95" width="3.1" height="3.1" fill="none" stroke="#222" stroke-width="0.75"/>
<rect x="563.95" y="234.95" width="3.1" height="3.1" fill="#1c1c1c" stroke="#1c1c1c" stroke-width="0.5"/>
<rect x="566.95" y="235.25" width="3.1" height="3.1" fill="#1c1c1c" stroke="#1c1c1c" stroke-width="0.5"/>
<circle cx="582" cy="237.2" r="1.6" fill="#1c1c1c" stroke="#1c1c1c" stroke-width="0.5"/>
<circle cx="584.5" cy="237.5" r="1.6" fill="#1c1c1c" stroke="#1c1c1c" stroke-width="0.5"/>
<rect x="590.95" y="232.95" width="3.1" height="3.1" fill="#1c1c1c" stroke="#1c1c1c" stroke-width="0.5"/>
<rect x="592.45" y="235.25" width="3.1" height="3.1" fill="#1c1c1c" stroke="#1c1c1c" stroke-width="0.5"/>
<rect x="589.95" y="235.45" width="3.1" height="3.1" fill="#1c1c1c" stroke="#1c1c1c" stroke-width="0.5"/>
<circle cx="609" cy="227.5" r="1.6" fill="#1c1c1c" stroke="#1c1c1c" stroke-width="0.5"/>
<circle cx="611.5" cy="229" r="1.6" fill="#1c1c1c" stroke="#1c1c1c" stroke-width="0.5"/>
<circle cx="610" cy="231.5" r="1.6" fill="#1c1c1c" stroke="#1c1c1c" stroke-width="0.5"/>
<circle cx="609" cy="226" r="1.65" fill="none" stroke="#222" stroke-width="0.75"/>
<rect x="618.95" y="221.45" width="3.1" height="3.1" fill="#1c1c1c" stroke="#1c1c1c" stroke-width="0.5"/>
<rect x="617.95" y="227.45" width="3.1" height="3.1" fill="#1c1c1c" stroke="#1c1c1c" stroke-width="0.5"/>
<rect x="620.95" y="228.95" width="3.1" height="3.1" fill="#1c1c1c" stroke="#1c1c1c" stroke-width="0.5"/>
<circle cx="636" cy="232.5" r="1.65" fill="none" stroke="#222" stroke-width="0.75"/>
<circle cx="637" cy="236.5" r="1.6" fill="#1c1c1c" stroke="#1c1c1c" stroke-width="0.5"/>
<circle cx="639.5" cy="237" r="1.6" fill="#1c1c1c" stroke="#1c1c1c" stroke-width="0.5"/>
<rect x="644.95" y="231.95" width="3.1" height="3.1" fill="none" stroke="#222" stroke-width="0.75"/>
<rect x="647.45" y="232.45" width="3.1" height="3.1" fill="none" stroke="#222" stroke-width="0.75"/>
<rect x="645.45" y="235.45" width="3.1" height="3.1" fill="#1c1c1c" stroke="#1c1c1c" stroke-width="0.5"/>
<circle cx="664.4" cy="165.2" r="1.6" fill="#1c1c1c" stroke="#1c1c1c" stroke-width="0.5"/>
<circle cx="664.4" cy="175.8" r="1.6" fill="#1c1c1c" stroke="#1c1c1c" stroke-width="0.5"/>
<circle cx="664.4" cy="181.4" r="1.65" fill="none" stroke="#222" stroke-width="0.75"/>
<circle cx="663.1" cy="187.6" r="1.65" fill="none" stroke="#222" stroke-width="0.75"/>
<circle cx="667.5" cy="186.4" r="1.6" fill="#1c1c1c" stroke="#1c1c1c" stroke-width="0.5"/>
<rect x="671.45" y="179.15" width="3.1" height="3.1" fill="#1c1c1c" stroke="#1c1c1c" stroke-width="0.5"/>
<rect x="673.45" y="182.85" width="3.1" height="3.1" fill="none" stroke="#222" stroke-width="0.75"/>
<rect x="675.45" y="182.85" width="3.1" height="3.1" fill="none" stroke="#222" stroke-width="0.75"/>
<rect x="671.95" y="188.95" width="3.1" height="3.1" fill="#1c1c1c" stroke="#1c1c1c" stroke-width="0.5"/>
<rect x="510.3" y="174.8" width="3.4" height="7.3" fill="#1c1c1c"/>
<circle cx="647.2" cy="140.3" r="2.9" fill="#666" stroke="#222" stroke-width="0.7"/>
<rect x="644.25" y="146.55" width="5.3" height="5.3" fill="#d8d9db" stroke="#333" stroke-width="0.7"/>
<text x="653.6" y="143.9" font-size="8.4" textLength="29.2" lengthAdjust="spacingAndGlyphs" fill="#333">WT:WT</text>
<text x="653.6" y="152.8" font-size="8.4" textLength="26.6" lengthAdjust="spacingAndGlyphs" fill="#333">KO:WT</text>
<text x="436.5" y="277.8" font-size="9.6" textLength="6.45" lengthAdjust="spacingAndGlyphs" fill="#111">H</text>
<line x1="468.5" y1="281" x2="468.5" y2="318" stroke="#7c7c7c" stroke-width="1.0"/>
<line x1="466.5" y1="318" x2="470.5" y2="318" stroke="#7c7c7c" stroke-width="1.0"/>
<line x1="468.5" y1="323.8" x2="468.5" y2="360.5" stroke="#7c7c7c" stroke-width="1.0"/>
<line x1="465.5" y1="281.5" x2="468.5" y2="281.5" stroke="#7c7c7c" stroke-width="1.0"/>
<line x1="465.5" y1="294.1" x2="468.5" y2="294.1" stroke="#7c7c7c" stroke-width="1.0"/>
<line x1="465.5" y1="306.9" x2="468.5" y2="306.9" stroke="#7c7c7c" stroke-width="1.0"/>
<line x1="465.5" y1="323.8" x2="468.5" y2="323.8" stroke="#7c7c7c" stroke-width="1.0"/>
<line x1="465.5" y1="331.1" x2="468.5" y2="331.1" stroke="#7c7c7c" stroke-width="1.0"/>
<line x1="465.5" y1="338.4" x2="468.5" y2="338.4" stroke="#7c7c7c" stroke-width="1.0"/>
<line x1="465.5" y1="345.8" x2="468.5" y2="345.8" stroke="#7c7c7c" stroke-width="1.0"/>
<line x1="465.5" y1="353.1" x2="468.5" y2="353.1" stroke="#7c7c7c" stroke-width="1.0"/>
<line x1="465.5" y1="360.4" x2="468.5" y2="360.4" stroke="#7c7c7c" stroke-width="1.0"/>
<text x="463.6" y="284.5" font-size="8.2" text-anchor="end" textLength="8.76" lengthAdjust="spacingAndGlyphs">60</text>
<text x="463.6" y="297.1" font-size="8.2" text-anchor="end" textLength="8.76" lengthAdjust="spacingAndGlyphs">40</text>
<text x="463.6" y="309.9" font-size="8.2" text-anchor="end" textLength="8.76" lengthAdjust="spacingAndGlyphs">20</text>
<text x="463.6" y="326.8" font-size="8.2" text-anchor="end" textLength="10.94" lengthAdjust="spacingAndGlyphs">2.5</text>
<text x="463.6" y="334.1" font-size="8.2" text-anchor="end" textLength="10.94" lengthAdjust="spacingAndGlyphs">2.0</text>
<text x="463.6" y="341.4" font-size="8.2" text-anchor="end" textLength="10.94" lengthAdjust="spacingAndGlyphs">1.5</text>
<text x="463.6" y="348.8" font-size="8.2" text-anchor="end" textLength="10.94" lengthAdjust="spacingAndGlyphs">1.0</text>
<text x="463.6" y="356.1" font-size="8.2" text-anchor="end" textLength="10.94" lengthAdjust="spacingAndGlyphs">0.5</text>
<text x="463.6" y="363.4" font-size="8.2" text-anchor="end" textLength="4.38" lengthAdjust="spacingAndGlyphs">0</text>
<line x1="468.5" y1="360.5" x2="682" y2="360.5" stroke="#7c7c7c" stroke-width="1.0"/>
<rect x="472.2" y="340" width="5.6" height="20.2" fill="#76777a" stroke="#4a4a4a" stroke-width="0.6"/>
<rect x="482.5" y="340.4" width="6.3" height="19.8" fill="#d8d9db" stroke="#4a4a4a" stroke-width="0.6"/>
<line x1="480.4" y1="360.5" x2="480.4" y2="363.8" stroke="#7c7c7c" stroke-width="1.0"/>
<text x="480.4" y="372.8" font-size="7.6" text-anchor="middle" textLength="19.2" lengthAdjust="spacingAndGlyphs">AREG</text>
<rect x="499.2" y="299" width="5.6" height="18.7" fill="#76777a" stroke="#4a4a4a" stroke-width="0.6"/>
<rect x="499.2" y="324.1" width="5.6" height="36.1" fill="#76777a" stroke="#4a4a4a" stroke-width="0.6"/>
<line x1="502" y1="323.8" x2="502" y2="360.5" stroke="#4a4a4a" stroke-width="0.8"/>
<rect x="509.5" y="306.2" width="6.3" height="11.5" fill="#d8d9db" stroke="#4a4a4a" stroke-width="0.6"/>
<rect x="509.5" y="324.1" width="6.3" height="36.1" fill="#fbfbfb" stroke="#4a4a4a" stroke-width="0.6"/>
<line x1="511.68" y1="323.8" x2="511.68" y2="360.5" stroke="#6a6a6a" stroke-width="0.6"/>
<line x1="513.75" y1="323.8" x2="513.75" y2="360.5" stroke="#6a6a6a" stroke-width="0.6"/>
<line x1="507.4" y1="360.5" x2="507.4" y2="363.8" stroke="#7c7c7c" stroke-width="1.0"/>
<text x="507.4" y="372.8" font-size="7.6" text-anchor="middle" textLength="14.1" lengthAdjust="spacingAndGlyphs">IL-2</text>
<rect x="526.2" y="356" width="5.6" height="4.2" fill="#76777a" stroke="#4a4a4a" stroke-width="0.6"/>
<rect x="536.5" y="353.9" width="6.3" height="6.3" fill="#d8d9db" stroke="#4a4a4a" stroke-width="0.6"/>
<line x1="534.4" y1="360.5" x2="534.4" y2="363.8" stroke="#7c7c7c" stroke-width="1.0"/>
<text x="534.4" y="372.8" font-size="7.6" text-anchor="middle" textLength="14.5" lengthAdjust="spacingAndGlyphs">IL-4</text>
<rect x="553.2" y="324.1" width="5.6" height="36.1" fill="#76777a" stroke="#4a4a4a" stroke-width="0.6"/>
<line x1="556" y1="323.8" x2="556" y2="360.5" stroke="#4a4a4a" stroke-width="0.8"/>
<rect x="563.5" y="324.1" width="6.3" height="36.1" fill="#fbfbfb" stroke="#4a4a4a" stroke-width="0.6"/>
<line x1="565.68" y1="323.8" x2="565.68" y2="360.5" stroke="#6a6a6a" stroke-width="0.6"/>
<line x1="567.75" y1="323.8" x2="567.75" y2="360.5" stroke="#6a6a6a" stroke-width="0.6"/>
<line x1="561.4" y1="360.5" x2="561.4" y2="363.8" stroke="#7c7c7c" stroke-width="1.0"/>
<text x="561.4" y="372.8" font-size="7.6" text-anchor="middle" textLength="18.3" lengthAdjust="spacingAndGlyphs">IL-10</text>
<rect x="580.2" y="354.8" width="5.6" height="5.4" fill="#76777a" stroke="#4a4a4a" stroke-width="0.6"/>
<rect x="590.5" y="356.8" width="6.3" height="3.4" fill="#d8d9db" stroke="#4a4a4a" stroke-width="0.6"/>
<line x1="588.4" y1="360.5" x2="588.4" y2="363.8" stroke="#7c7c7c" stroke-width="1.0"/>
<text x="588.4" y="372.8" font-size="7.6" text-anchor="middle" textLength="18.3" lengthAdjust="spacingAndGlyphs">IL-17</text>
<rect x="607.2" y="324.1" width="5.6" height="36.1" fill="#76777a" stroke="#4a4a4a" stroke-width="0.6"/>
<rect x="607.2" y="316.8" width="5.6" height="0.9" fill="#76777a" stroke="#4a4a4a" stroke-width="0.6"/>
<rect x="617.5" y="324.1" width="6.3" height="36.1" fill="#d8d9db" stroke="#4a4a4a" stroke-width="0.6"/>
<line x1="615.4" y1="360.5" x2="615.4" y2="363.8" stroke="#7c7c7c" stroke-width="1.0"/>
<text x="615.4" y="372.8" font-size="7.6" text-anchor="middle" textLength="19.3" lengthAdjust="spacingAndGlyphs">IFN-γ</text>
<rect x="634.2" y="353.5" width="5.6" height="6.7" fill="#76777a" stroke="#4a4a4a" stroke-width="0.6"/>
<rect x="644.5" y="352.4" width="6.3" height="7.8" fill="#d8d9db" stroke="#4a4a4a" stroke-width="0.6"/>
<line x1="642.4" y1="360.5" x2="642.4" y2="363.8" stroke="#7c7c7c" stroke-width="1.0"/>
<text x="642.4" y="372.8" font-size="7.6" text-anchor="middle" textLength="20.3" lengthAdjust="spacingAndGlyphs">TGF-β</text>
<rect x="661.2" y="306.5" width="5.6" height="11.2" fill="#76777a" stroke="#4a4a4a" stroke-width="0.6"/>
<rect x="661.2" y="324.1" width="5.6" height="36.1" fill="#76777a" stroke="#4a4a4a" stroke-width="0.6"/>
<line x1="664" y1="323.8" x2="664" y2="360.5" stroke="#4a4a4a" stroke-width="0.8"/>
<rect x="671.5" y="308.5" width="6.3" height="9.2" fill="#d8d9db" stroke="#4a4a4a" stroke-width="0.6"/>
<rect x="671.5" y="324.1" width="6.3" height="36.1" fill="#d8d9db" stroke="#4a4a4a" stroke-width="0.6"/>
<line x1="673.68" y1="323.8" x2="673.68" y2="360.5" stroke="#a8a8a8" stroke-width="0.6"/>
<line x1="675.75" y1="323.8" x2="675.75" y2="360.5" stroke="#a8a8a8" stroke-width="0.6"/>
<line x1="669.4" y1="360.5" x2="669.4" y2="363.8" stroke="#7c7c7c" stroke-width="1.0"/>
<text x="669.4" y="372.8" font-size="7.6" text-anchor="middle" textLength="20.9" lengthAdjust="spacingAndGlyphs">TNF-α</text>
<text x="575.8" y="283.7" font-size="9.6" text-anchor="middle" textLength="100.4" lengthAdjust="spacingAndGlyphs">Cytokine production-CD8</text>
<text x="449.3" y="325" font-size="9" text-anchor="middle" transform="rotate(-90 449.3 325)" textLength="39.6" lengthAdjust="spacingAndGlyphs">% of CD8<tspan font-size="6" dy="-3.2">+</tspan></text>
<line x1="475.3" y1="329" x2="475.3" y2="350" stroke="#333" stroke-width="0.7"/>
<line x1="472.8" y1="329" x2="477.8" y2="329" stroke="#333" stroke-width="0.7"/>
<line x1="472.8" y1="350" x2="477.8" y2="350" stroke="#333" stroke-width="0.7"/>
<line x1="485.3" y1="330.8" x2="485.3" y2="347.5" stroke="#333" stroke-width="0.7"/>
<line x1="482.8" y1="330.8" x2="487.8" y2="330.8" stroke="#333" stroke-width="0.7"/>
<line x1="482.8" y1="347.5" x2="487.8" y2="347.5" stroke="#333" stroke-width="0.7"/>
<line x1="502.7" y1="284.3" x2="502.7" y2="312" stroke="#333" stroke-width="0.7"/>
<line x1="500.2" y1="284.3" x2="505.2" y2="284.3" stroke="#333" stroke-width="0.7"/>
<line x1="500.2" y1="312" x2="505.2" y2="312" stroke="#333" stroke-width="0.7"/>
<line x1="512.4" y1="286.2" x2="512.4" y2="316" stroke="#333" stroke-width="0.7"/>
<line x1="509.9" y1="286.2" x2="514.9" y2="286.2" stroke="#333" stroke-width="0.7"/>
<line x1="509.9" y1="316" x2="514.9" y2="316" stroke="#333" stroke-width="0.7"/>
<line x1="556.4" y1="317.3" x2="556.4" y2="317.3" stroke="#333" stroke-width="0.7"/>
<line x1="553.2" y1="317.3" x2="559.6" y2="317.3" stroke="#333" stroke-width="0.7"/>
<line x1="553.2" y1="317.3" x2="559.6" y2="317.3" stroke="#333" stroke-width="0.7"/>
<line x1="566.6" y1="317.3" x2="566.6" y2="317.3" stroke="#333" stroke-width="0.7"/>
<line x1="563.4" y1="317.3" x2="569.8" y2="317.3" stroke="#333" stroke-width="0.7"/>
<line x1="563.4" y1="317.3" x2="569.8" y2="317.3" stroke="#333" stroke-width="0.7"/>
<line x1="583.5" y1="346.8" x2="583.5" y2="358" stroke="#333" stroke-width="0.7"/>
<line x1="581" y1="346.8" x2="586" y2="346.8" stroke="#333" stroke-width="0.7"/>
<line x1="581" y1="358" x2="586" y2="358" stroke="#333" stroke-width="0.7"/>
<line x1="594" y1="350" x2="594" y2="358" stroke="#333" stroke-width="0.7"/>
<line x1="591.5" y1="350" x2="596.5" y2="350" stroke="#333" stroke-width="0.7"/>
<line x1="591.5" y1="358" x2="596.5" y2="358" stroke="#333" stroke-width="0.7"/>
<line x1="638" y1="348" x2="638" y2="358" stroke="#333" stroke-width="0.7"/>
<line x1="635.5" y1="348" x2="640.5" y2="348" stroke="#333" stroke-width="0.7"/>
<line x1="635.5" y1="358" x2="640.5" y2="358" stroke="#333" stroke-width="0.7"/>
<line x1="648" y1="350" x2="648" y2="356" stroke="#333" stroke-width="0.7"/>
<line x1="645.5" y1="350" x2="650.5" y2="350" stroke="#333" stroke-width="0.7"/>
<line x1="645.5" y1="356" x2="650.5" y2="356" stroke="#333" stroke-width="0.7"/>
<line x1="665.1" y1="301" x2="665.1" y2="306" stroke="#333" stroke-width="0.7"/>
<line x1="662.6" y1="301" x2="667.6" y2="301" stroke="#333" stroke-width="0.7"/>
<line x1="662.6" y1="306" x2="667.6" y2="306" stroke="#333" stroke-width="0.7"/>
<circle cx="475.3" cy="329" r="1.6" fill="#1c1c1c" stroke="#1c1c1c" stroke-width="0.5"/>
<circle cx="475.3" cy="342.4" r="1.6" fill="#1c1c1c" stroke="#1c1c1c" stroke-width="0.5"/>
<circle cx="475.3" cy="347.6" r="1.6" fill="#1c1c1c" stroke="#1c1c1c" stroke-width="0.5"/>
<rect x="483.75" y="330.45" width="3.1" height="3.1" fill="#1c1c1c" stroke="#1c1c1c" stroke-width="0.5"/>
<rect x="483.75" y="345.55" width="3.1" height="3.1" fill="#1c1c1c" stroke="#1c1c1c" stroke-width="0.5"/>
<circle cx="500.9" cy="284.3" r="1.6" fill="#1c1c1c" stroke="#1c1c1c" stroke-width="0.5"/>
<circle cx="503.3" cy="284.8" r="1.6" fill="#1c1c1c" stroke="#1c1c1c" stroke-width="0.5"/>
<circle cx="502.3" cy="290.8" r="1.6" fill="#1c1c1c" stroke="#1c1c1c" stroke-width="0.5"/>
<circle cx="500.5" cy="316.4" r="1.65" fill="none" stroke="#222" stroke-width="0.75"/>
<circle cx="504" cy="316.4" r="1.65" fill="none" stroke="#222" stroke-width="0.75"/>
<rect x="512.15" y="284.35" width="3.1" height="3.1" fill="#1c1c1c" stroke="#1c1c1c" stroke-width="0.5"/>
<rect x="512.15" y="292.55" width="3.1" height="3.1" fill="#1c1c1c" stroke="#1c1c1c" stroke-width="0.5"/>
<rect x="508.95" y="314.85" width="3.1" height="3.1" fill="none" stroke="#222" stroke-width="0.75"/>
<rect x="512.45" y="314.85" width="3.1" height="3.1" fill="none" stroke="#222" stroke-width="0.75"/>
<circle cx="529.3" cy="345.8" r="1.65" fill="none" stroke="#222" stroke-width="0.75"/>
<circle cx="529.3" cy="352" r="1.65" fill="none" stroke="#222" stroke-width="0.75"/>
<circle cx="528" cy="358.5" r="1.6" fill="#1c1c1c" stroke="#1c1c1c" stroke-width="0.5"/>
<circle cx="531" cy="358.5" r="1.6" fill="#1c1c1c" stroke="#1c1c1c" stroke-width="0.5"/>
<rect x="536.65" y="345.85" width="3.1" height="3.1" fill="none" stroke="#222" stroke-width="0.75"/>
<rect x="539.15" y="348.35" width="3.1" height="3.1" fill="none" stroke="#222" stroke-width="0.75"/>
<rect x="536.65" y="350.05" width="3.1" height="3.1" fill="none" stroke="#222" stroke-width="0.75"/>
<rect x="536.45" y="356.95" width="3.1" height="3.1" fill="#1c1c1c" stroke="#1c1c1c" stroke-width="0.5"/>
<rect x="539.45" y="356.95" width="3.1" height="3.1" fill="#1c1c1c" stroke="#1c1c1c" stroke-width="0.5"/>
<circle cx="555.1" cy="312.6" r="1.65" fill="none" stroke="#222" stroke-width="0.75"/>
<circle cx="556.8" cy="315.5" r="1.65" fill="none" stroke="#222" stroke-width="0.75"/>
<rect x="562.95" y="312.75" width="3.1" height="3.1" fill="none" stroke="#222" stroke-width="0.75"/>
<rect x="565.45" y="312.75" width="3.1" height="3.1" fill="none" stroke="#222" stroke-width="0.75"/>
<rect x="567.75" y="312.75" width="3.1" height="3.1" fill="none" stroke="#222" stroke-width="0.75"/>
<circle cx="555" cy="358.5" r="1.6" fill="#1c1c1c" stroke="#1c1c1c" stroke-width="0.5"/>
<circle cx="557.5" cy="358.5" r="1.6" fill="#1c1c1c" stroke="#1c1c1c" stroke-width="0.5"/>
<rect x="563.45" y="356.95" width="3.1" height="3.1" fill="#1c1c1c" stroke="#1c1c1c" stroke-width="0.5"/>
<rect x="565.95" y="356.95" width="3.1" height="3.1" fill="#1c1c1c" stroke="#1c1c1c" stroke-width="0.5"/>
<circle cx="583.6" cy="342.7" r="1.6" fill="#1c1c1c" stroke="#1c1c1c" stroke-width="0.5"/>
<circle cx="582" cy="355" r="1.6" fill="#1c1c1c" stroke="#1c1c1c" stroke-width="0.5"/>
<circle cx="585" cy="354.5" r="1.6" fill="#1c1c1c" stroke="#1c1c1c" stroke-width="0.5"/>
<circle cx="583" cy="358.5" r="1.6" fill="#1c1c1c" stroke="#1c1c1c" stroke-width="0.5"/>
<rect x="591.75" y="345.25" width="3.1" height="3.1" fill="#1c1c1c" stroke="#1c1c1c" stroke-width="0.5"/>
<rect x="591.75" y="350.45" width="3.1" height="3.1" fill="#1c1c1c" stroke="#1c1c1c" stroke-width="0.5"/>
<rect x="590.45" y="355.95" width="3.1" height="3.1" fill="none" stroke="#222" stroke-width="0.75"/>
<rect x="593.45" y="355.95" width="3.1" height="3.1" fill="none" stroke="#222" stroke-width="0.75"/>
<circle cx="609.8" cy="310" r="1.65" fill="none" stroke="#222" stroke-width="0.75"/>
<circle cx="611.5" cy="312.5" r="1.65" fill="none" stroke="#222" stroke-width="0.75"/>
<circle cx="609" cy="315.5" r="1.6" fill="#1c1c1c" stroke="#1c1c1c" stroke-width="0.5"/>
<circle cx="612" cy="315.5" r="1.6" fill="#1c1c1c" stroke="#1c1c1c" stroke-width="0.5"/>
<rect x="618.45" y="308.95" width="3.1" height="3.1" fill="none" stroke="#222" stroke-width="0.75"/>
<rect x="621.45" y="308.95" width="3.1" height="3.1" fill="none" stroke="#222" stroke-width="0.75"/>
<rect x="619.95" y="313.95" width="3.1" height="3.1" fill="#1c1c1c" stroke="#1c1c1c" stroke-width="0.5"/>
<circle cx="638" cy="343.6" r="1.65" fill="none" stroke="#222" stroke-width="0.75"/>
<circle cx="636.5" cy="356" r="1.6" fill="#1c1c1c" stroke="#1c1c1c" stroke-width="0.5"/>
<circle cx="639" cy="357.5" r="1.6" fill="#1c1c1c" stroke="#1c1c1c" stroke-width="0.5"/>
<rect x="646.25" y="349.85" width="3.1" height="3.1" fill="none" stroke="#222" stroke-width="0.75"/>
<rect x="648.45" y="351.45" width="3.1" height="3.1" fill="none" stroke="#222" stroke-width="0.75"/>
<rect x="645.45" y="354.95" width="3.1" height="3.1" fill="#1c1c1c" stroke="#1c1c1c" stroke-width="0.5"/>
<circle cx="665.1" cy="295.8" r="1.6" fill="#1c1c1c" stroke="#1c1c1c" stroke-width="0.5"/>
<circle cx="663.5" cy="305.5" r="1.65" fill="none" stroke="#222" stroke-width="0.75"/>
<circle cx="666.5" cy="306.5" r="1.6" fill="#1c1c1c" stroke="#1c1c1c" stroke-width="0.5"/>
<rect x="672.45" y="304.45" width="3.1" height="3.1" fill="#1c1c1c" stroke="#1c1c1c" stroke-width="0.5"/>
<rect x="674.95" y="302.95" width="3.1" height="3.1" fill="none" stroke="#222" stroke-width="0.75"/>
<rect x="674.45" y="306.45" width="3.1" height="3.1" fill="#1c1c1c" stroke="#1c1c1c" stroke-width="0.5"/>
</svg>
</body></html>
